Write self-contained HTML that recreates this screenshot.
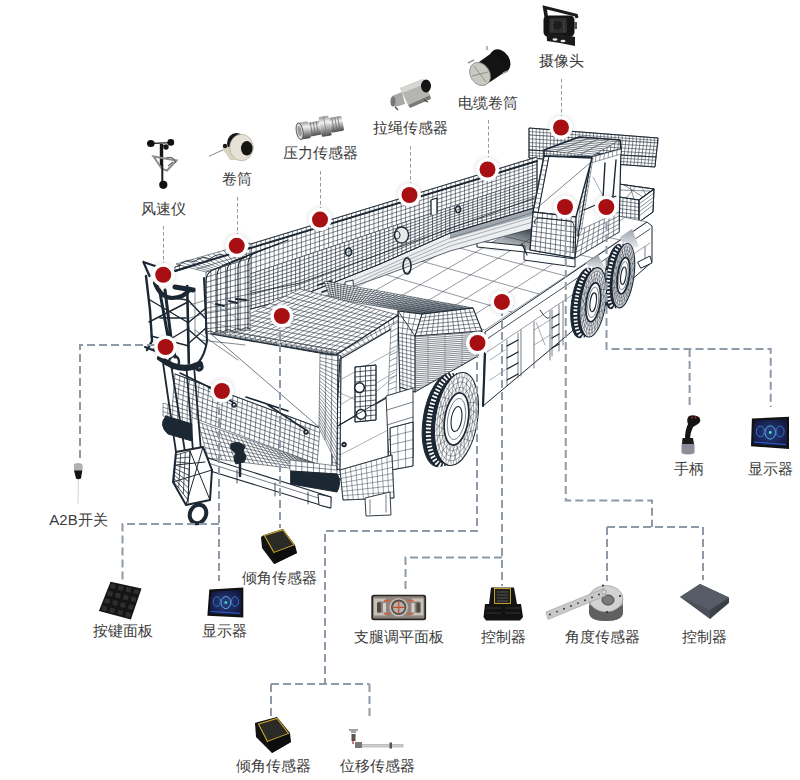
<!DOCTYPE html>
<html><head><meta charset="utf-8">
<style>
html,body{margin:0;padding:0;background:#fff;}
body{width:800px;height:780px;position:relative;overflow:hidden;font-family:"Liberation Sans",sans-serif;}
.lb{position:absolute;font-size:15px;line-height:15px;color:#3b3b3b;white-space:nowrap;transform:translateX(-50%);}
svg{position:absolute;left:0;top:0;}
</style></head><body>
<svg id="truck" width="800" height="780" viewBox="0 0 800 780">
<polygon points="529.0,128.0 658.0,138.0 658.0,143.0 529.0,135.0" fill="#fff" stroke="none"/>
<path d="M529.0 128.0L529.0 135.0M532.6 128.3L532.6 135.2M536.2 128.6L536.2 135.4M539.8 128.8L539.8 135.7M543.3 129.1L543.3 135.9M546.9 129.4L546.9 136.1M550.5 129.7L550.5 136.3M554.1 129.9L554.1 136.6M557.7 130.2L557.7 136.8M561.2 130.5L561.2 137.0M564.8 130.8L564.8 137.2M568.4 131.1L568.4 137.4M572.0 131.3L572.0 137.7M575.6 131.6L575.6 137.9M579.2 131.9L579.2 138.1M582.8 132.2L582.8 138.3M586.3 132.4L586.3 138.6M589.9 132.7L589.9 138.8M593.5 133.0L593.5 139.0M597.1 133.3L597.1 139.2M600.7 133.6L600.7 139.4M604.2 133.8L604.2 139.7M607.8 134.1L607.8 139.9M611.4 134.4L611.4 140.1M615.0 134.7L615.0 140.3M618.6 134.9L618.6 140.6M622.2 135.2L622.2 140.8M625.8 135.5L625.8 141.0M629.3 135.8L629.3 141.2M632.9 136.1L632.9 141.4M636.5 136.3L636.5 141.7M640.1 136.6L640.1 141.9M643.7 136.9L643.7 142.1M647.2 137.2L647.2 142.3M650.8 137.4L650.8 142.6M654.4 137.7L654.4 142.8M658.0 138.0L658.0 143.0M529.0 128.0L658.0 138.0M529.0 131.5L658.0 140.5M529.0 135.0L658.0 143.0" fill="none" stroke="#2a3642" stroke-width="0.55" stroke-opacity="1.0"/>
<polygon points="529.0,135.0 658.0,143.0 656.0,157.0 529.0,150.0" fill="#fff" stroke="none"/>
<path d="M529.0 135.0L529.0 150.0M532.6 135.2L532.5 150.2M536.2 135.4L536.1 150.4M539.8 135.7L539.6 150.6M543.3 135.9L543.1 150.8M546.9 136.1L546.6 151.0M550.5 136.3L550.2 151.2M554.1 136.6L553.7 151.4M557.7 136.8L557.2 151.6M561.2 137.0L560.8 151.8M564.8 137.2L564.3 151.9M568.4 137.4L567.8 152.1M572.0 137.7L571.3 152.3M575.6 137.9L574.9 152.5M579.2 138.1L578.4 152.7M582.8 138.3L581.9 152.9M586.3 138.6L585.4 153.1M589.9 138.8L589.0 153.3M593.5 139.0L592.5 153.5M597.1 139.2L596.0 153.7M600.7 139.4L599.6 153.9M604.2 139.7L603.1 154.1M607.8 139.9L606.6 154.3M611.4 140.1L610.1 154.5M615.0 140.3L613.7 154.7M618.6 140.6L617.2 154.9M622.2 140.8L620.7 155.1M625.8 141.0L624.2 155.2M629.3 141.2L627.8 155.4M632.9 141.4L631.3 155.6M636.5 141.7L634.8 155.8M640.1 141.9L638.4 156.0M643.7 142.1L641.9 156.2M647.2 142.3L645.4 156.4M650.8 142.6L648.9 156.6M654.4 142.8L652.5 156.8M658.0 143.0L656.0 157.0M529.0 135.0L658.0 143.0M529.0 138.8L657.5 146.5M529.0 142.5L657.0 150.0M529.0 146.2L656.5 153.5M529.0 150.0L656.0 157.0" fill="none" stroke="#2a3642" stroke-width="0.6" stroke-opacity="1.0"/>
<polygon points="529.0,150.0 656.0,157.0 655.0,167.0 529.0,158.0" fill="#fff" stroke="none"/>
<path d="M529.0 150.0L529.0 158.0M532.5 150.2L532.5 158.2M536.1 150.4L536.0 158.5M539.6 150.6L539.5 158.8M543.1 150.8L543.0 159.0M546.6 151.0L546.5 159.2M550.2 151.2L550.0 159.5M553.7 151.4L553.5 159.8M557.2 151.6L557.0 160.0M560.8 151.8L560.5 160.2M564.3 151.9L564.0 160.5M567.8 152.1L567.5 160.8M571.3 152.3L571.0 161.0M574.9 152.5L574.5 161.2M578.4 152.7L578.0 161.5M581.9 152.9L581.5 161.8M585.4 153.1L585.0 162.0M589.0 153.3L588.5 162.2M592.5 153.5L592.0 162.5M596.0 153.7L595.5 162.8M599.6 153.9L599.0 163.0M603.1 154.1L602.5 163.2M606.6 154.3L606.0 163.5M610.1 154.5L609.5 163.8M613.7 154.7L613.0 164.0M617.2 154.9L616.5 164.2M620.7 155.1L620.0 164.5M624.2 155.2L623.5 164.8M627.8 155.4L627.0 165.0M631.3 155.6L630.5 165.2M634.8 155.8L634.0 165.5M638.4 156.0L637.5 165.8M641.9 156.2L641.0 166.0M645.4 156.4L644.5 166.2M648.9 156.6L648.0 166.5M652.5 156.8L651.5 166.8M656.0 157.0L655.0 167.0M529.0 150.0L656.0 157.0M529.0 152.7L655.7 160.3M529.0 155.3L655.3 163.7M529.0 158.0L655.0 167.0" fill="none" stroke="#2a3642" stroke-width="0.55" stroke-opacity="1.0"/>
<polygon points="529.0,128.0 658.0,138.0 656.0,157.0 655.0,167.0 529.0,158.0" fill="none" stroke="#1b2733" stroke-width="1.0" stroke-linejoin="round" />
<path d="M529 150L656 157" fill="none" stroke="#1b2733" stroke-width="0.9" stroke-linecap="round" stroke-linejoin="round" />
<polygon points="619.0,184.0 654.0,189.0 639.0,200.0 619.0,197.0" fill="#fff" stroke="#1b2733" stroke-width="0.9" stroke-linejoin="round" />
<path d="M624 185L643 197M630 186L634 199M636 186.5L626 198M642 187.5L646 195M619 190L650 191" fill="none" stroke="#3a4650" stroke-width="0.6" stroke-linecap="round" stroke-linejoin="round" />
<polygon points="619.0,197.0 639.0,200.0 639.0,222.0 618.0,220.0" fill="#fff" stroke="none"/>
<path d="M619.0 197.0L618.0 220.0M623.0 197.6L622.2 220.4M627.0 198.2L626.4 220.8M631.0 198.8L630.6 221.2M635.0 199.4L634.8 221.6M639.0 200.0L639.0 222.0M619.0 197.0L639.0 200.0M618.8 200.8L639.0 203.7M618.7 204.7L639.0 207.3M618.5 208.5L639.0 211.0M618.3 212.3L639.0 214.7M618.2 216.2L639.0 218.3M618.0 220.0L639.0 222.0" fill="none" stroke="#2a3642" stroke-width="0.6" stroke-opacity="1.0"/>
<polygon points="639.0,200.0 654.0,189.0 653.0,212.0 639.0,222.0" fill="#fff" stroke="#1b2733" stroke-width="0.9" stroke-linejoin="round" />
<path d="M639 204L654 193M639 208L654 197M639 212L653 201M639 216L653 205" fill="none" stroke="#3a4650" stroke-width="0.6" stroke-linecap="round" stroke-linejoin="round" />
<polygon points="619.0,184.0 654.0,189.0 653.0,212.0 639.0,222.0 618.0,220.0" fill="none" stroke="#1b2733" stroke-width="1.0" stroke-linejoin="round" />
<path d="M619 197L639 200L654 189M639 200V222" fill="none" stroke="#1b2733" stroke-width="1.2" stroke-linecap="round" stroke-linejoin="round" />
<polygon points="485.0,330.0 647.0,222.0 470.0,185.0 300.0,272.0" fill="#fff" stroke="none"/>
<path d="M485.0 330.0L300.0 272.0M512.0 312.0L328.3 257.5M539.0 294.0L356.7 243.0M566.0 276.0L385.0 228.5M593.0 258.0L413.3 214.0M620.0 240.0L441.7 199.5M647.0 222.0L470.0 185.0M485.0 330.0L647.0 222.0M461.9 322.8L624.9 217.4M438.8 315.5L602.8 212.8M415.6 308.2L580.6 208.1M392.5 301.0L558.5 203.5M369.4 293.8L536.4 198.9M346.2 286.5L514.2 194.2M323.1 279.2L492.1 189.6M300.0 272.0L470.0 185.0" fill="none" stroke="#3a4650" stroke-width="0.55" stroke-opacity="1.0"/>
<polygon points="485.0,332.0 647.0,222.0 652.0,226.0 652.0,262.0 570.0,333.0 483.0,406.0" fill="#fff" stroke="#1b2733" stroke-width="1.0" stroke-linejoin="round" />
<path d="M487 339L650 229" fill="none" stroke="#1b2733" stroke-width="0.8" stroke-linecap="round" stroke-linejoin="round" />
<path d="M487 352L650 243" fill="none" stroke="#55606a" stroke-width="0.6" stroke-linecap="round" stroke-linejoin="round" />
<path d="M485 354L483 406" fill="none" stroke="#1b2733" stroke-width="2.2" stroke-linecap="round" stroke-linejoin="round" />
<path d="M507 340V386M518 333V378M521 330V376M534 322V368M550 311V360M552 310V356M559 305V351M563 302V345M579 292V334M600 278V318M625 262V296M645 247V268" fill="none" stroke="#3a4650" stroke-width="0.7" stroke-linecap="round" stroke-linejoin="round" />
<path d="M507 346L518 340M507 358L518 352M507 369L518 363M507 380L518 374" fill="none" stroke="#1b2733" stroke-width="1.3" stroke-linecap="round" stroke-linejoin="round" />
<path d="M552 318L559 314M552 328L559 324M552 338L559 334M552 348L559 344" fill="none" stroke="#1b2733" stroke-width="1.3" stroke-linecap="round" stroke-linejoin="round" />
<path d="M534 330L550 320M534 345L550 335M536 322L545 345M490 360L505 350M490 380L505 370" fill="none" stroke="#55606a" stroke-width="0.5" stroke-linecap="round" stroke-linejoin="round" />
<path d="M540 310Q546 320 549 318" fill="none" stroke="#1b2733" stroke-width="0.9" stroke-linecap="round" stroke-linejoin="round" />
<path d="M638 262L650 256L652 263L641 268Z" fill="#fff" stroke="#1b2733" stroke-width="1.0" stroke-linecap="round" stroke-linejoin="round" />
<linearGradient id="fnd" x1="0" y1="0" x2="0" y2="1"><stop offset="0" stop-color="#9aa2aa"/><stop offset="1" stop-color="#eef0f2"/></linearGradient>
<polygon points="586,263 598,255 607,271 591,271" fill="url(#fnd)"/>
<polygon points="620,237 632,229 639,247 625,249" fill="url(#fnd)"/>
<g transform="translate(623.4,275.7) rotate(8)"><ellipse cx="-8" cy="2" rx="10.5" ry="32.5" fill="#1b2733" stroke="#1b2733" stroke-width="1"/><path d="M-8 -30.5L0 -32.5L0 32.5L-8 34.5Z" fill="#1b2733"/><ellipse cx="-4.0" cy="1.0" rx="10.5" ry="32.5" fill="none" stroke="#fff" stroke-width="3.6" stroke-dasharray="1.7 1.9"/><ellipse cx="0" cy="0" rx="10.5" ry="32.5" fill="#fff" stroke="#1b2733" stroke-width="1.1"/><path d="M9.7 -10.9L5.8 0.0L9.7 10.9" fill="none" stroke="#2a3642" stroke-width="0.4"/><path d="M10.3 -2.8L5.6 4.6L8.4 18.3" fill="none" stroke="#2a3642" stroke-width="0.4"/><path d="M10.1 5.5L5.0 8.9L6.6 24.4" fill="none" stroke="#2a3642" stroke-width="0.4"/><path d="M9.3 13.4L4.1 12.6L4.3 28.9" fill="none" stroke="#2a3642" stroke-width="0.4"/><path d="M7.9 20.4L2.9 15.5L1.8 31.4" fill="none" stroke="#2a3642" stroke-width="0.4"/><path d="M5.9 26.1L1.5 17.3L-0.9 31.7" fill="none" stroke="#2a3642" stroke-width="0.4"/><path d="M3.5 29.9L0.0 17.9L-3.5 29.9" fill="none" stroke="#2a3642" stroke-width="0.4"/><path d="M0.9 31.7L-1.5 17.3L-5.9 26.1" fill="none" stroke="#2a3642" stroke-width="0.4"/><path d="M-1.8 31.4L-2.9 15.5L-7.9 20.4" fill="none" stroke="#2a3642" stroke-width="0.4"/><path d="M-4.3 28.9L-4.1 12.6L-9.3 13.4" fill="none" stroke="#2a3642" stroke-width="0.4"/><path d="M-6.6 24.4L-5.0 8.9L-10.1 5.5" fill="none" stroke="#2a3642" stroke-width="0.4"/><path d="M-8.4 18.3L-5.6 4.6L-10.3 -2.8" fill="none" stroke="#2a3642" stroke-width="0.4"/><path d="M-9.7 10.9L-5.8 0.0L-9.7 -10.9" fill="none" stroke="#2a3642" stroke-width="0.4"/><path d="M-10.3 2.8L-5.6 -4.6L-8.4 -18.3" fill="none" stroke="#2a3642" stroke-width="0.4"/><path d="M-10.1 -5.5L-5.0 -8.9L-6.6 -24.4" fill="none" stroke="#2a3642" stroke-width="0.4"/><path d="M-9.3 -13.4L-4.1 -12.6L-4.3 -28.9" fill="none" stroke="#2a3642" stroke-width="0.4"/><path d="M-7.9 -20.4L-2.9 -15.5L-1.8 -31.4" fill="none" stroke="#2a3642" stroke-width="0.4"/><path d="M-5.9 -26.1L-1.5 -17.3L0.9 -31.7" fill="none" stroke="#2a3642" stroke-width="0.4"/><path d="M-3.5 -29.9L-0.0 -17.9L3.5 -29.9" fill="none" stroke="#2a3642" stroke-width="0.4"/><path d="M-0.9 -31.7L1.5 -17.3L5.9 -26.1" fill="none" stroke="#2a3642" stroke-width="0.4"/><path d="M1.8 -31.4L2.9 -15.5L7.9 -20.4" fill="none" stroke="#2a3642" stroke-width="0.4"/><path d="M4.3 -28.9L4.1 -12.6L9.3 -13.4" fill="none" stroke="#2a3642" stroke-width="0.4"/><path d="M6.6 -24.4L5.0 -8.9L10.1 -5.5" fill="none" stroke="#2a3642" stroke-width="0.4"/><path d="M8.4 -18.3L5.6 -4.6L10.3 2.8" fill="none" stroke="#2a3642" stroke-width="0.4"/><ellipse cx="0" cy="0" rx="8.2" ry="26.0" fill="none" stroke="#2a3642" stroke-width="0.45"/><ellipse cx="0" cy="0" rx="6.9" ry="22.1" fill="none" stroke="#2a3642" stroke-width="0.4"/><ellipse cx="0" cy="0" rx="9.3" ry="29.2" fill="none" stroke="#2a3642" stroke-width="0.4"/><ellipse cx="0" cy="0" rx="5.9" ry="18.2" fill="#fff" stroke="#1b2733" stroke-width="1.7"/><ellipse cx="0" cy="0" rx="4.4" ry="14.3" fill="none" stroke="#2a3642" stroke-width="0.6"/><ellipse cx="0" cy="0" rx="2.6" ry="8.8" fill="none" stroke="#1b2733" stroke-width="1.1"/></g>
<g transform="translate(593.2,302.3) rotate(8)"><ellipse cx="-9" cy="2" rx="12.5" ry="35" fill="#1b2733" stroke="#1b2733" stroke-width="1"/><path d="M-9 -33L0 -35L0 35L-9 37Z" fill="#1b2733"/><ellipse cx="-4.5" cy="1.0" rx="12.5" ry="35" fill="none" stroke="#fff" stroke-width="3.8" stroke-dasharray="1.7 1.9"/><ellipse cx="0" cy="0" rx="12.5" ry="35" fill="#fff" stroke="#1b2733" stroke-width="1.1"/><path d="M11.5 -11.8L6.9 0.0L11.5 11.8" fill="none" stroke="#2a3642" stroke-width="0.4"/><path d="M12.2 -3.0L6.6 5.0L10.0 19.7" fill="none" stroke="#2a3642" stroke-width="0.4"/><path d="M12.1 5.9L6.0 9.6L7.9 26.3" fill="none" stroke="#2a3642" stroke-width="0.4"/><path d="M11.1 14.5L4.9 13.6L5.2 31.1" fill="none" stroke="#2a3642" stroke-width="0.4"/><path d="M9.4 22.0L3.4 16.7L2.1 33.8" fill="none" stroke="#2a3642" stroke-width="0.4"/><path d="M7.0 28.1L1.8 18.6L-1.1 34.2" fill="none" stroke="#2a3642" stroke-width="0.4"/><path d="M4.2 32.2L0.0 19.2L-4.2 32.2" fill="none" stroke="#2a3642" stroke-width="0.4"/><path d="M1.1 34.2L-1.8 18.6L-7.0 28.1" fill="none" stroke="#2a3642" stroke-width="0.4"/><path d="M-2.1 33.8L-3.4 16.7L-9.4 22.0" fill="none" stroke="#2a3642" stroke-width="0.4"/><path d="M-5.2 31.1L-4.9 13.6L-11.1 14.5" fill="none" stroke="#2a3642" stroke-width="0.4"/><path d="M-7.9 26.3L-6.0 9.6L-12.1 5.9" fill="none" stroke="#2a3642" stroke-width="0.4"/><path d="M-10.0 19.7L-6.6 5.0L-12.2 -3.0" fill="none" stroke="#2a3642" stroke-width="0.4"/><path d="M-11.5 11.8L-6.9 0.0L-11.5 -11.8" fill="none" stroke="#2a3642" stroke-width="0.4"/><path d="M-12.2 3.0L-6.6 -5.0L-10.0 -19.7" fill="none" stroke="#2a3642" stroke-width="0.4"/><path d="M-12.1 -5.9L-6.0 -9.6L-7.9 -26.3" fill="none" stroke="#2a3642" stroke-width="0.4"/><path d="M-11.1 -14.5L-4.9 -13.6L-5.2 -31.1" fill="none" stroke="#2a3642" stroke-width="0.4"/><path d="M-9.4 -22.0L-3.4 -16.7L-2.1 -33.8" fill="none" stroke="#2a3642" stroke-width="0.4"/><path d="M-7.0 -28.1L-1.8 -18.6L1.1 -34.2" fill="none" stroke="#2a3642" stroke-width="0.4"/><path d="M-4.2 -32.2L-0.0 -19.2L4.2 -32.2" fill="none" stroke="#2a3642" stroke-width="0.4"/><path d="M-1.1 -34.2L1.8 -18.6L7.0 -28.1" fill="none" stroke="#2a3642" stroke-width="0.4"/><path d="M2.1 -33.8L3.4 -16.7L9.4 -22.0" fill="none" stroke="#2a3642" stroke-width="0.4"/><path d="M5.2 -31.1L4.9 -13.6L11.1 -14.5" fill="none" stroke="#2a3642" stroke-width="0.4"/><path d="M7.9 -26.3L6.0 -9.6L12.1 -5.9" fill="none" stroke="#2a3642" stroke-width="0.4"/><path d="M10.0 -19.7L6.6 -5.0L12.2 3.0" fill="none" stroke="#2a3642" stroke-width="0.4"/><ellipse cx="0" cy="0" rx="9.8" ry="28.0" fill="none" stroke="#2a3642" stroke-width="0.45"/><ellipse cx="0" cy="0" rx="8.2" ry="23.8" fill="none" stroke="#2a3642" stroke-width="0.4"/><ellipse cx="0" cy="0" rx="11.1" ry="31.5" fill="none" stroke="#2a3642" stroke-width="0.4"/><ellipse cx="0" cy="0" rx="7.0" ry="19.6" fill="#fff" stroke="#1b2733" stroke-width="1.7"/><ellipse cx="0" cy="0" rx="5.2" ry="15.4" fill="none" stroke="#2a3642" stroke-width="0.6"/><ellipse cx="0" cy="0" rx="3.1" ry="9.5" fill="none" stroke="#1b2733" stroke-width="1.1"/></g>
<linearGradient id="shd" x1="0" y1="0" x2="0" y2="1"><stop offset="0" stop-color="#1b2733" stop-opacity="0.9"/><stop offset="1" stop-color="#1b2733" stop-opacity="0.05"/></linearGradient>
<linearGradient id="shd2" x1="1" y1="0" x2="0.3" y2="1"><stop offset="0" stop-color="#1b2733" stop-opacity="0.95"/><stop offset="1" stop-color="#1b2733" stop-opacity="0"/></linearGradient>
<polygon points="470,250 533,226 531,250 480,252" fill="url(#shd2)"/>
<polygon points="477.0,241.0 525.0,246.0 525.0,252.0 477.0,247.0" fill="#fff" stroke="#1b2733" stroke-width="1.0" stroke-linejoin="round" />
<polygon points="300.0,296.0 380.0,264.0 450.0,233.0 537.0,207.0 531.0,229.0 450.0,251.0 380.0,277.0 300.0,305.0" fill="#eceef0" stroke="#1b2733" stroke-width="0.7" stroke-linejoin="round" />
<path d="M310 298L380 269L450 238L535 212M320 300L380 272L450 242L534 217M340 296L380 275L450 246L533 222" fill="none" stroke="#56616b" stroke-width="0.45" stroke-linecap="round" stroke-linejoin="round" />
<polygon points="450,233 537,207 535,215 450,239" fill="#1b2733" opacity="0.35"/>
<polygon points="247.0,249.1 537.0,161.0 537.0,178.0 247.0,275.0" fill="#fff" stroke="none"/>
<path d="M247.0 249.1L247.0 275.0M251.5 247.7L251.5 273.5M256.1 246.4L256.1 272.0M260.6 245.0L260.6 270.5M265.1 243.6L265.1 268.9M269.7 242.2L269.7 267.4M274.2 240.9L274.2 265.9M278.7 239.5L278.7 264.4M283.2 238.1L283.2 262.9M287.8 236.7L287.8 261.4M292.3 235.4L292.3 259.8M296.8 234.0L296.8 258.3M301.4 232.6L301.4 256.8M305.9 231.2L305.9 255.3M310.4 229.8L310.4 253.8M315.0 228.5L315.0 252.3M319.5 227.1L319.5 250.8M324.0 225.7L324.0 249.2M328.6 224.3L328.6 247.7M333.1 223.0L333.1 246.2M337.6 221.6L337.6 244.7M342.2 220.2L342.2 243.2M346.7 218.8L346.7 241.7M351.2 217.5L351.2 240.1M355.8 216.1L355.8 238.6M360.3 214.7L360.3 237.1M364.8 213.3L364.8 235.6M369.3 211.9L369.3 234.1M373.9 210.6L373.9 232.6M378.4 209.2L378.4 231.0M382.9 207.8L382.9 229.5M387.5 206.4L387.5 228.0M392.0 205.1L392.0 226.5M396.5 203.7L396.5 225.0M401.1 202.3L401.1 223.5M405.6 200.9L405.6 222.0M410.1 199.6L410.1 220.4M414.7 198.2L414.7 218.9M419.2 196.8L419.2 217.4M423.7 195.4L423.7 215.9M428.2 194.0L428.2 214.4M432.8 192.7L432.8 212.9M437.3 191.3L437.3 211.3M441.8 189.9L441.8 209.8M446.4 188.5L446.4 208.3M450.9 187.2L450.9 206.8M455.4 185.8L455.4 205.3M460.0 184.4L460.0 203.8M464.5 183.0L464.5 202.2M469.0 181.7L469.0 200.7M473.6 180.3L473.6 199.2M478.1 178.9L478.1 197.7M482.6 177.5L482.6 196.2M487.2 176.1L487.2 194.7M491.7 174.8L491.7 193.2M496.2 173.4L496.2 191.6M500.8 172.0L500.8 190.1M505.3 170.6L505.3 188.6M509.8 169.3L509.8 187.1M514.3 167.9L514.3 185.6M518.9 166.5L518.9 184.1M523.4 165.1L523.4 182.5M527.9 163.8L527.9 181.0M532.5 162.4L532.5 179.5M537.0 161.0L537.0 178.0M247.0 249.1L537.0 161.0M247.0 254.3L537.0 164.4M247.0 259.5L537.0 167.8M247.0 264.6L537.0 171.2M247.0 269.8L537.0 174.6M247.0 275.0L537.0 178.0" fill="none" stroke="#2a3642" stroke-width="0.6" stroke-opacity="1.0"/>
<polygon points="247.0,275.0 300.0,257.3 300.0,296.0 247.0,310.0" fill="#fff" stroke="none"/>
<path d="M247.0 275.0L247.0 310.0M251.4 273.5L251.4 308.8M255.8 272.0L255.8 307.7M260.2 270.6L260.2 306.5M264.7 269.1L264.7 305.3M269.1 267.6L269.1 304.2M273.5 266.1L273.5 303.0M277.9 264.7L277.9 301.8M282.3 263.2L282.3 300.7M286.8 261.7L286.8 299.5M291.2 260.2L291.2 298.3M295.6 258.7L295.6 297.2M300.0 257.3L300.0 296.0M247.0 275.0L300.0 257.3M247.0 278.5L300.0 261.1M247.0 282.0L300.0 265.0M247.0 285.5L300.0 268.9M247.0 289.0L300.0 272.8M247.0 292.5L300.0 276.6M247.0 296.0L300.0 280.5M247.0 299.5L300.0 284.4M247.0 303.0L300.0 288.3M247.0 306.5L300.0 292.1M247.0 310.0L300.0 296.0" fill="none" stroke="#2a3642" stroke-width="0.7" stroke-opacity="1.0"/>
<polygon points="300.0,257.3 380.0,230.5 380.0,264.0 300.0,296.0" fill="#fff" stroke="none"/>
<path d="M300.0 257.3L300.0 296.0M304.4 255.8L304.4 294.2M308.9 254.3L308.9 292.4M313.3 252.8L313.3 290.7M317.8 251.3L317.8 288.9M322.2 249.8L322.2 287.1M326.7 248.4L326.7 285.3M331.1 246.9L331.1 283.6M335.6 245.4L335.6 281.8M340.0 243.9L340.0 280.0M344.4 242.4L344.4 278.2M348.9 240.9L348.9 276.4M353.3 239.4L353.3 274.7M357.8 237.9L357.8 272.9M362.2 236.5L362.2 271.1M366.7 235.0L366.7 269.3M371.1 233.5L371.1 267.6M375.6 232.0L375.6 265.8M380.0 230.5L380.0 264.0M300.0 257.3L380.0 230.5M300.0 261.1L380.0 233.9M300.0 265.0L380.0 237.2M300.0 268.9L380.0 240.6M300.0 272.8L380.0 243.9M300.0 276.6L380.0 247.3M300.0 280.5L380.0 250.6M300.0 284.4L380.0 254.0M300.0 288.3L380.0 257.3M300.0 292.1L380.0 260.7M300.0 296.0L380.0 264.0" fill="none" stroke="#2a3642" stroke-width="0.7" stroke-opacity="1.0"/>
<polygon points="380.0,230.5 450.0,207.1 450.0,233.0 380.0,264.0" fill="#fff" stroke="none"/>
<path d="M380.0 230.5L380.0 264.0M384.4 229.1L384.4 262.1M388.8 227.6L388.8 260.1M393.1 226.1L393.1 258.2M397.5 224.7L397.5 256.2M401.9 223.2L401.9 254.3M406.2 221.7L406.2 252.4M410.6 220.3L410.6 250.4M415.0 218.8L415.0 248.5M419.4 217.3L419.4 246.6M423.8 215.9L423.8 244.6M428.1 214.4L428.1 242.7M432.5 213.0L432.5 240.8M436.9 211.5L436.9 238.8M441.2 210.0L441.2 236.9M445.6 208.6L445.6 234.9M450.0 207.1L450.0 233.0M380.0 230.5L450.0 207.1M380.0 233.9L450.0 209.7M380.0 237.2L450.0 212.3M380.0 240.6L450.0 214.9M380.0 243.9L450.0 217.5M380.0 247.3L450.0 220.1M380.0 250.6L450.0 222.6M380.0 254.0L450.0 225.2M380.0 257.3L450.0 227.8M380.0 260.7L450.0 230.4M380.0 264.0L450.0 233.0" fill="none" stroke="#2a3642" stroke-width="0.7" stroke-opacity="1.0"/>
<polygon points="450.0,207.1 537.0,178.0 537.0,207.0 450.0,233.0" fill="#fff" stroke="none"/>
<path d="M450.0 207.1L450.0 233.0M454.6 205.6L454.6 231.6M459.2 204.0L459.2 230.3M463.7 202.5L463.7 228.9M468.3 201.0L468.3 227.5M472.9 199.4L472.9 226.2M477.5 197.9L477.5 224.8M482.1 196.4L482.1 223.4M486.6 194.8L486.6 222.1M491.2 193.3L491.2 220.7M495.8 191.8L495.8 219.3M500.4 190.3L500.4 217.9M504.9 188.7L504.9 216.6M509.5 187.2L509.5 215.2M514.1 185.7L514.1 213.8M518.7 184.1L518.7 212.5M523.3 182.6L523.3 211.1M527.8 181.1L527.8 209.7M532.4 179.5L532.4 208.4M537.0 178.0L537.0 207.0M450.0 207.1L537.0 178.0M450.0 209.7L537.0 180.9M450.0 212.3L537.0 183.8M450.0 214.9L537.0 186.7M450.0 217.5L537.0 189.6M450.0 220.1L537.0 192.5M450.0 222.6L537.0 195.4M450.0 225.2L537.0 198.3M450.0 227.8L537.0 201.2M450.0 230.4L537.0 204.1M450.0 233.0L537.0 207.0" fill="none" stroke="#2a3642" stroke-width="0.7" stroke-opacity="1.0"/>
<polygon points="247.0,249.1 537.0,161.0 537.0,207.0 450.0,233.0 380.0,264.0 300.0,296.0 247.0,310.0" fill="none" stroke="#1b2733" stroke-width="1.0" stroke-linejoin="round" />
<path d="M247 294L300 283L537 197" fill="none" stroke="#1f2b37" stroke-width="0.9" stroke-linecap="round" stroke-linejoin="round" />
<polygon points="175.0,267.0 537.0,157.0 537.0,161.0 175.0,271.0" fill="#fff" stroke="none"/>
<path d="M175.0 267.0L175.0 271.0M179.5 265.6L179.5 269.6M184.1 264.2L184.1 268.2M188.6 262.9L188.6 266.9M193.1 261.5L193.1 265.5M197.6 260.1L197.6 264.1M202.2 258.8L202.2 262.8M206.7 257.4L206.7 261.4M211.2 256.0L211.2 260.0M215.7 254.6L215.7 258.6M220.2 253.2L220.2 257.2M224.8 251.9L224.8 255.9M229.3 250.5L229.3 254.5M233.8 249.1L233.8 253.1M238.3 247.8L238.3 251.8M242.9 246.4L242.9 250.4M247.4 245.0L247.4 249.0M251.9 243.6L251.9 247.6M256.4 242.2L256.4 246.2M261.0 240.9L261.0 244.9M265.5 239.5L265.5 243.5M270.0 238.1L270.0 242.1M274.6 236.8L274.6 240.8M279.1 235.4L279.1 239.4M283.6 234.0L283.6 238.0M288.1 232.6L288.1 236.6M292.6 231.2L292.6 235.2M297.2 229.9L297.2 233.9M301.7 228.5L301.7 232.5M306.2 227.1L306.2 231.1M310.8 225.8L310.8 229.8M315.3 224.4L315.3 228.4M319.8 223.0L319.8 227.0M324.3 221.6L324.3 225.6M328.9 220.2L328.9 224.2M333.4 218.9L333.4 222.9M337.9 217.5L337.9 221.5M342.4 216.1L342.4 220.1M346.9 214.8L346.9 218.8M351.5 213.4L351.5 217.4M356.0 212.0L356.0 216.0M360.5 210.6L360.5 214.6M365.1 209.2L365.1 213.2M369.6 207.9L369.6 211.9M374.1 206.5L374.1 210.5M378.6 205.1L378.6 209.1M383.1 203.8L383.1 207.8M387.7 202.4L387.7 206.4M392.2 201.0L392.2 205.0M396.7 199.6L396.7 203.6M401.2 198.2L401.2 202.2M405.8 196.9L405.8 200.9M410.3 195.5L410.3 199.5M414.8 194.1L414.8 198.1M419.4 192.8L419.4 196.8M423.9 191.4L423.9 195.4M428.4 190.0L428.4 194.0M432.9 188.6L432.9 192.6M437.4 187.2L437.4 191.2M442.0 185.9L442.0 189.9M446.5 184.5L446.5 188.5M451.0 183.1L451.0 187.1M455.6 181.8L455.6 185.8M460.1 180.4L460.1 184.4M464.6 179.0L464.6 183.0M469.1 177.6L469.1 181.6M473.6 176.2L473.6 180.2M478.2 174.9L478.2 178.9M482.7 173.5L482.7 177.5M487.2 172.1L487.2 176.1M491.8 170.8L491.8 174.8M496.3 169.4L496.3 173.4M500.8 168.0L500.8 172.0M505.3 166.6L505.3 170.6M509.9 165.2L509.9 169.2M514.4 163.9L514.4 167.9M518.9 162.5L518.9 166.5M523.4 161.1L523.4 165.1M528.0 159.8L528.0 163.8M532.5 158.4L532.5 162.4M537.0 157.0L537.0 161.0M175.0 267.0L537.0 157.0M175.0 271.0L537.0 161.0" fill="none" stroke="#2a3642" stroke-width="0.6" stroke-opacity="1.0"/>
<path d="M175 267L537 157" fill="none" stroke="#1b2733" stroke-width="0.8" stroke-linecap="round" stroke-linejoin="round" />
<path d="M175 271L537 161" fill="none" stroke="#1b2733" stroke-width="1.9" stroke-linecap="round" stroke-linejoin="round" />
<path d="M322 292L334 288M318 285L332 281" fill="none" stroke="#1b2733" stroke-width="1.5" stroke-linecap="round" stroke-linejoin="round" />
<path d="M458 206a2.6 3.4 0 1 0 0.1 0" fill="none" stroke="#1b2733" stroke-width="1.5" stroke-linecap="round" stroke-linejoin="round" />
<path d="M401.5 227a7 8 0 1 0 0.1 0" fill="#e6e8ea" stroke="#1b2733" stroke-width="1.3" stroke-linecap="round" stroke-linejoin="round" />
<path d="M397 231a3 4 0 1 0 0.1 0" fill="none" stroke="#1b2733" stroke-width="1.0" stroke-linecap="round" stroke-linejoin="round" />
<path d="M431 215V200L437 198V213" fill="#fff" stroke="#1b2733" stroke-width="1.3" stroke-linecap="round" stroke-linejoin="round" />
<path d="M407 258a4 8 0 1 0 0.1 0" fill="none" stroke="#1b2733" stroke-width="1.6" stroke-linecap="round" stroke-linejoin="round" />
<path d="M348.5 248a3 4 0 1 0 0.1 0" fill="none" stroke="#1b2733" stroke-width="1.6" stroke-linecap="round" stroke-linejoin="round" />
<polygon points="345.0,282.0 353.0,280.0 354.0,297.0 346.0,299.0" fill="#fff" stroke="#1b2733" stroke-width="0.9" stroke-linejoin="round" />
<polygon points="544.0,150.0 579.0,137.0 620.0,140.0 592.0,156.0" fill="#fff" stroke="none"/>
<path d="M544.0 150.0L592.0 156.0M547.9 148.6L595.1 154.2M551.8 147.1L598.2 152.4M555.7 145.7L601.3 150.7M559.6 144.2L604.4 148.9M563.4 142.8L607.6 147.1M567.3 141.3L610.7 145.3M571.2 139.9L613.8 143.6M575.1 138.4L616.9 141.8M579.0 137.0L620.0 140.0M544.0 150.0L579.0 137.0M556.0 151.5L589.2 137.8M568.0 153.0L599.5 138.5M580.0 154.5L609.8 139.2M592.0 156.0L620.0 140.0" fill="none" stroke="#2a3642" stroke-width="0.6" stroke-opacity="1.0"/>
<polygon points="544.0,150.0 579.0,137.0 620.0,140.0 621.0,149.0 592.0,157.0 544.0,156.0" fill="none" stroke="#1b2733" stroke-width="1.6" stroke-linejoin="round" />
<polygon points="592.0,157.0 621.0,149.0 619.0,232.0 575.0,258.0" fill="#fff" stroke="#1b2733" stroke-width="1.2" stroke-linejoin="round" />
<polygon points="592.0,157.0 621.0,149.0 621.0,154.0 591.0,163.0" fill="#fff" stroke="none"/>
<path d="M592.0 157.0L591.0 163.0M596.1 155.9L595.3 161.7M600.3 154.7L599.6 160.4M604.4 153.6L603.9 159.1M608.6 152.4L608.1 157.9M612.7 151.3L612.4 156.6M616.9 150.1L616.7 155.3M621.0 149.0L621.0 154.0M592.0 157.0L621.0 149.0M591.0 163.0L621.0 154.0" fill="none" stroke="#2a3642" stroke-width="0.5" stroke-opacity="1.0"/>
<polygon points="580.0,230.0 619.0,212.0 619.0,232.0 575.0,258.0" fill="#fff" stroke="none"/>
<path d="M580.0 230.0L575.0 258.0M584.9 227.8L580.5 254.8M589.8 225.5L586.0 251.5M594.6 223.2L591.5 248.2M599.5 221.0L597.0 245.0M604.4 218.8L602.5 241.8M609.2 216.5L608.0 238.5M614.1 214.2L613.5 235.2M619.0 212.0L619.0 232.0M580.0 230.0L619.0 212.0M579.0 235.6L619.0 216.0M578.0 241.2L619.0 220.0M577.0 246.8L619.0 224.0M576.0 252.4L619.0 228.0M575.0 258.0L619.0 232.0" fill="none" stroke="#2a3642" stroke-width="0.55" stroke-opacity="1.0"/>
<polygon points="585.0,160.0 593.0,158.0 581.0,232.0 577.0,236.0" fill="#fff" stroke="none"/>
<path d="M585.0 160.0L577.0 236.0M593.0 158.0L581.0 232.0M585.0 160.0L593.0 158.0M584.5 164.8L592.2 162.6M584.0 169.5L591.5 167.2M583.5 174.2L590.8 171.9M583.0 179.0L590.0 176.5M582.5 183.8L589.2 181.1M582.0 188.5L588.5 185.8M581.5 193.2L587.8 190.4M581.0 198.0L587.0 195.0M580.5 202.8L586.2 199.6M580.0 207.5L585.5 204.2M579.5 212.2L584.8 208.9M579.0 217.0L584.0 213.5M578.5 221.8L583.2 218.1M578.0 226.5L582.5 222.8M577.5 231.2L581.8 227.4M577.0 236.0L581.0 232.0" fill="none" stroke="#2a3642" stroke-width="0.5" stroke-opacity="1.0"/>
<path d="M591 160L578 236" fill="none" stroke="#1b2733" stroke-width="1.3" stroke-linecap="round" stroke-linejoin="round" />
<path d="M605 163L603 198M616 160L613 196L600 206" fill="none" stroke="#1b2733" stroke-width="1.4" stroke-linecap="round" stroke-linejoin="round" />
<path d="M584 210L616 196" fill="none" stroke="#1b2733" stroke-width="1.1" stroke-linecap="round" stroke-linejoin="round" />
<path d="M593 177L605 200" fill="none" stroke="#55606a" stroke-width="0.5" stroke-linecap="round" stroke-linejoin="round" />
<polygon points="544.0,156.0 592.0,158.0 576.0,217.0 533.0,212.0" fill="#fff" stroke="#1b2733" stroke-width="1.4" stroke-linejoin="round" />
<path d="M544.0 156.0L533.0 212.0M549.0 156.0L538.0 213.0M544.0 156.0L549.0 156.0M543.1 160.7L548.1 160.8M542.2 165.3L547.2 165.5M541.2 170.0L546.2 170.2M540.3 174.7L545.3 175.0M539.4 179.3L544.4 179.8M538.5 184.0L543.5 184.5M537.6 188.7L542.6 189.2M536.7 193.3L541.7 194.0M535.8 198.0L540.8 198.8M534.8 202.7L539.8 203.5M533.9 207.3L538.9 208.2M533.0 212.0L538.0 213.0" fill="none" stroke="#2a3642" stroke-width="0.5" stroke-opacity="1.0"/>
<path d="M549 156L538 213" fill="none" stroke="#1b2733" stroke-width="1.0" stroke-linecap="round" stroke-linejoin="round" />
<path d="M537 208L590 163" fill="none" stroke="#2a3642" stroke-width="0.6" stroke-linecap="round" stroke-linejoin="round" />
<polygon points="533.0,212.0 576.0,217.0 575.0,258.0 530.0,250.0" fill="#fff" stroke="none"/>
<path d="M533.0 212.0L530.0 250.0M537.8 212.6L535.0 250.9M542.6 213.1L540.0 251.8M547.3 213.7L545.0 252.7M552.1 214.2L550.0 253.6M556.9 214.8L555.0 254.4M561.7 215.3L560.0 255.3M566.4 215.9L565.0 256.2M571.2 216.4L570.0 257.1M576.0 217.0L575.0 258.0M533.0 212.0L576.0 217.0M532.6 216.8L575.9 222.1M532.2 221.5L575.8 227.2M531.9 226.2L575.6 232.4M531.5 231.0L575.5 237.5M531.1 235.8L575.4 242.6M530.8 240.5L575.2 247.8M530.4 245.2L575.1 252.9M530.0 250.0L575.0 258.0" fill="none" stroke="#2a3642" stroke-width="0.6" stroke-opacity="1.0"/>
<polygon points="533.0,212.0 576.0,217.0 575.0,258.0 530.0,250.0" fill="none" stroke="#1b2733" stroke-width="1.2" stroke-linejoin="round"/>
<path d="M535 224Q533 218 540 218L570 221Q575 222 574 230L573 252" fill="none" stroke="#1b2733" stroke-width="1.0" stroke-linecap="round" stroke-linejoin="round" />
<polygon points="524.0,252.0 575.0,259.0 575.0,267.0 524.0,260.0" fill="#fff" stroke="#1b2733" stroke-width="1.0" stroke-linejoin="round" />
<path d="M522 244L527 255" fill="none" stroke="#1b2733" stroke-width="1.2" stroke-linecap="round" stroke-linejoin="round" />
<polygon points="324.0,281.0 473.0,308.0 422.0,314.0 330.0,298.0" fill="#fff" stroke="none"/>
<path d="M324.0 281.0L330.0 298.0M327.4 281.6L332.1 298.4M330.8 282.2L334.2 298.7M334.2 282.8L336.3 299.1M337.5 283.5L338.4 299.5M340.9 284.1L340.5 299.8M344.3 284.7L342.5 300.2M347.7 285.3L344.6 300.5M351.1 285.9L346.7 300.9M354.5 286.5L348.8 301.3M357.9 287.1L350.9 301.6M361.2 287.8L353.0 302.0M364.6 288.4L355.1 302.4M368.0 289.0L357.2 302.7M371.4 289.6L359.3 303.1M374.8 290.2L361.4 303.5M378.2 290.8L363.5 303.8M381.6 291.4L365.5 304.2M385.0 292.0L367.6 304.5M388.3 292.7L369.7 304.9M391.7 293.3L371.8 305.3M395.1 293.9L373.9 305.6M398.5 294.5L376.0 306.0M401.9 295.1L378.1 306.4M405.3 295.7L380.2 306.7M408.7 296.3L382.3 307.1M412.0 297.0L384.4 307.5M415.4 297.6L386.5 307.8M418.8 298.2L388.5 308.2M422.2 298.8L390.6 308.5M425.6 299.4L392.7 308.9M429.0 300.0L394.8 309.3M432.4 300.6L396.9 309.6M435.8 301.2L399.0 310.0M439.1 301.9L401.1 310.4M442.5 302.5L403.2 310.7M445.9 303.1L405.3 311.1M449.3 303.7L407.4 311.5M452.7 304.3L409.5 311.8M456.1 304.9L411.5 312.2M459.5 305.5L413.6 312.5M462.8 306.2L415.7 312.9M466.2 306.8L417.8 313.3M469.6 307.4L419.9 313.6M473.0 308.0L422.0 314.0M324.0 281.0L473.0 308.0M324.8 283.1L466.6 308.8M325.5 285.2L460.2 309.5M326.2 287.4L453.9 310.2M327.0 289.5L447.5 311.0M327.8 291.6L441.1 311.8M328.5 293.8L434.8 312.5M329.2 295.9L428.4 313.2M330.0 298.0L422.0 314.0" fill="none" stroke="#1f2b37" stroke-width="0.6" stroke-opacity="1.0"/>
<polygon points="422.0,314.0 473.0,308.0 482.0,331.0 415.0,336.0" fill="#fff" stroke="none"/>
<path d="M422.0 314.0L415.0 336.0M426.2 313.5L420.6 335.6M430.5 313.0L426.2 335.2M434.8 312.5L431.8 334.8M439.0 312.0L437.3 334.3M443.2 311.5L442.9 333.9M447.5 311.0L448.5 333.5M451.8 310.5L454.1 333.1M456.0 310.0L459.7 332.7M460.2 309.5L465.2 332.2M464.5 309.0L470.8 331.8M468.8 308.5L476.4 331.4M473.0 308.0L482.0 331.0M422.0 314.0L473.0 308.0M420.8 317.7L474.5 311.8M419.7 321.3L476.0 315.7M418.5 325.0L477.5 319.5M417.3 328.7L479.0 323.3M416.2 332.3L480.5 327.2M415.0 336.0L482.0 331.0" fill="none" stroke="#1f2b37" stroke-width="0.55" stroke-opacity="1.0"/>
<clipPath id="hfc"><polygon points="415,336 482,331 478,356 415,392"/></clipPath>
<polygon points="415,336 482,331 478,356 415,392" fill="#fff"/>
<path clip-path="url(#hfc)" d="M414 337.0L483 331.8M414 338.9L483 333.8M414 340.9L483 335.7M414 342.9L483 337.7M414 344.8L483 339.6M414 346.8L483 341.6M414 348.7L483 343.5M414 350.6L483 345.4M414 352.6L483 347.4M414 354.6L483 349.4M414 356.5L483 351.3M414 358.4L483 353.2M414 360.4L483 355.2M414 362.4L483 357.2M414 364.3L483 359.1M414 366.2L483 361.1M414 368.2L483 363.0M414 370.1L483 364.9M414 372.1L483 366.9M414 374.1L483 368.9M414 376.0L483 370.8M414 377.9L483 372.8M414 379.9L483 374.7M414 381.9L483 376.7M414 383.8L483 378.6M414 385.8L483 380.6M414 387.7L483 382.5M414 389.6L483 384.4M414 391.6L483 386.4M414 393.6L483 388.4" stroke="#1f2b37" stroke-width="0.55" fill="none"/>
<path d="M428 335V385M445 334V376M462 332V366" fill="none" stroke="#55606a" stroke-width="0.45" stroke-linecap="round" stroke-linejoin="round" />
<polygon points="398.0,311.0 422.0,314.0 415.0,336.0 398.0,333.0" fill="#fff" stroke="none"/>
<path d="M398.0 311.0L398.0 333.0M404.0 311.8L402.2 333.8M410.0 312.5L406.5 334.5M416.0 313.2L410.8 335.2M422.0 314.0L415.0 336.0M398.0 311.0L422.0 314.0M398.0 316.5L420.2 319.5M398.0 322.0L418.5 325.0M398.0 327.5L416.8 330.5M398.0 333.0L415.0 336.0" fill="none" stroke="#2a3642" stroke-width="0.55" stroke-opacity="1.0"/>
<polygon points="398.0,333.0 415.0,336.0 415.0,392.0 399.0,387.0" fill="#fff" stroke="none"/>
<path d="M398.0 333.0L399.0 387.0M402.2 333.8L403.0 388.2M406.5 334.5L407.0 389.5M410.8 335.2L411.0 390.8M415.0 336.0L415.0 392.0M398.0 333.0L415.0 336.0M398.1 336.9L415.0 340.0M398.1 340.7L415.0 344.0M398.2 344.6L415.0 348.0M398.3 348.4L415.0 352.0M398.4 352.3L415.0 356.0M398.4 356.1L415.0 360.0M398.5 360.0L415.0 364.0M398.6 363.9L415.0 368.0M398.6 367.7L415.0 372.0M398.7 371.6L415.0 376.0M398.8 375.4L415.0 380.0M398.9 379.3L415.0 384.0M398.9 383.1L415.0 388.0M399.0 387.0L415.0 392.0" fill="none" stroke="#2a3642" stroke-width="0.55" stroke-opacity="1.0"/>
<path d="M415 336L482 331M415 336V392M398 311L415 336M422 314L415 336" fill="none" stroke="#1b2733" stroke-width="0.9" stroke-linecap="round" stroke-linejoin="round" />
<polygon points="398.0,311.0 422.0,314.0 473.0,308.0 482.0,331.0 478.0,356.0 415.0,392.0 399.0,387.0" fill="none" stroke="#1b2733" stroke-width="1.0" stroke-linejoin="round" />
<g transform="translate(456.5,419) rotate(9)"><ellipse cx="-12" cy="3" rx="21" ry="47" fill="#1b2733" stroke="#1b2733" stroke-width="1"/><path d="M-12 -44L0 -47L0 47L-12 50Z" fill="#1b2733"/><ellipse cx="-6.0" cy="1.5" rx="21" ry="47" fill="none" stroke="#fff" stroke-width="5" stroke-dasharray="1.7 1.9"/><ellipse cx="0" cy="0" rx="21" ry="47" fill="#fff" stroke="#1b2733" stroke-width="1.1"/><path d="M19.3 -15.8L11.6 0.0L19.3 15.8" fill="none" stroke="#2a3642" stroke-width="0.4"/><path d="M20.5 -4.1L11.2 6.7L16.8 26.5" fill="none" stroke="#2a3642" stroke-width="0.4"/><path d="M20.3 8.0L10.0 12.9L13.2 35.3" fill="none" stroke="#2a3642" stroke-width="0.4"/><path d="M18.7 19.4L8.2 18.3L8.7 41.8" fill="none" stroke="#2a3642" stroke-width="0.4"/><path d="M15.8 29.6L5.8 22.4L3.6 45.4" fill="none" stroke="#2a3642" stroke-width="0.4"/><path d="M11.8 37.7L3.0 25.0L-1.8 45.9" fill="none" stroke="#2a3642" stroke-width="0.4"/><path d="M7.1 43.3L0.0 25.9L-7.1 43.3" fill="none" stroke="#2a3642" stroke-width="0.4"/><path d="M1.8 45.9L-3.0 25.0L-11.8 37.7" fill="none" stroke="#2a3642" stroke-width="0.4"/><path d="M-3.6 45.4L-5.8 22.4L-15.8 29.6" fill="none" stroke="#2a3642" stroke-width="0.4"/><path d="M-8.7 41.8L-8.2 18.3L-18.7 19.4" fill="none" stroke="#2a3642" stroke-width="0.4"/><path d="M-13.2 35.3L-10.0 12.9L-20.3 8.0" fill="none" stroke="#2a3642" stroke-width="0.4"/><path d="M-16.8 26.5L-11.2 6.7L-20.5 -4.1" fill="none" stroke="#2a3642" stroke-width="0.4"/><path d="M-19.3 15.8L-11.6 0.0L-19.3 -15.8" fill="none" stroke="#2a3642" stroke-width="0.4"/><path d="M-20.5 4.1L-11.2 -6.7L-16.8 -26.5" fill="none" stroke="#2a3642" stroke-width="0.4"/><path d="M-20.3 -8.0L-10.0 -12.9L-13.2 -35.3" fill="none" stroke="#2a3642" stroke-width="0.4"/><path d="M-18.7 -19.4L-8.2 -18.3L-8.7 -41.8" fill="none" stroke="#2a3642" stroke-width="0.4"/><path d="M-15.8 -29.6L-5.8 -22.4L-3.6 -45.4" fill="none" stroke="#2a3642" stroke-width="0.4"/><path d="M-11.8 -37.7L-3.0 -25.0L1.8 -45.9" fill="none" stroke="#2a3642" stroke-width="0.4"/><path d="M-7.1 -43.3L-0.0 -25.9L7.1 -43.3" fill="none" stroke="#2a3642" stroke-width="0.4"/><path d="M-1.8 -45.9L3.0 -25.0L11.8 -37.7" fill="none" stroke="#2a3642" stroke-width="0.4"/><path d="M3.6 -45.4L5.8 -22.4L15.8 -29.6" fill="none" stroke="#2a3642" stroke-width="0.4"/><path d="M8.7 -41.8L8.2 -18.3L18.7 -19.4" fill="none" stroke="#2a3642" stroke-width="0.4"/><path d="M13.2 -35.3L10.0 -12.9L20.3 -8.0" fill="none" stroke="#2a3642" stroke-width="0.4"/><path d="M16.8 -26.5L11.2 -6.7L20.5 4.1" fill="none" stroke="#2a3642" stroke-width="0.4"/><ellipse cx="0" cy="0" rx="16.4" ry="37.6" fill="none" stroke="#2a3642" stroke-width="0.45"/><ellipse cx="0" cy="0" rx="13.9" ry="32.0" fill="none" stroke="#2a3642" stroke-width="0.4"/><ellipse cx="0" cy="0" rx="18.7" ry="42.3" fill="none" stroke="#2a3642" stroke-width="0.4"/><ellipse cx="0" cy="0" rx="11.8" ry="26.3" fill="#fff" stroke="#1b2733" stroke-width="1.7"/><ellipse cx="0" cy="0" rx="8.8" ry="20.7" fill="none" stroke="#2a3642" stroke-width="0.6"/><ellipse cx="0" cy="0" rx="5.2" ry="12.7" fill="none" stroke="#1b2733" stroke-width="1.1"/></g>
<polygon points="331.0,352.0 398.0,316.0 400.0,393.0 392.0,460.0 340.0,480.0 333.0,467.0" fill="#fff" stroke="#1b2733" stroke-width="1.1" stroke-linejoin="round" />
<polygon points="331.0,352.0 398.0,316.0 398.0,325.0 340.0,357.0" fill="#fff" stroke="none"/>
<path d="M331.0 352.0L340.0 357.0M335.8 349.4L344.1 354.7M340.6 346.9L348.3 352.4M345.4 344.3L352.4 350.1M350.1 341.7L356.6 347.9M354.9 339.1L360.7 345.6M359.7 336.6L364.9 343.3M364.5 334.0L369.0 341.0M369.3 331.4L373.1 338.7M374.1 328.9L377.3 336.4M378.9 326.3L381.4 334.1M383.6 323.7L385.6 331.9M388.4 321.1L389.7 329.6M393.2 318.6L393.9 327.3M398.0 316.0L398.0 325.0M331.0 352.0L398.0 316.0M335.5 354.5L398.0 320.5M340.0 357.0L398.0 325.0" fill="none" stroke="#2a3642" stroke-width="0.55" stroke-opacity="1.0"/>
<polygon points="331.0,352.0 341.0,356.0 340.0,470.0 332.0,467.0" fill="#fff" stroke="none"/>
<path d="M331.0 352.0L332.0 467.0M336.0 354.0L336.0 468.5M341.0 356.0L340.0 470.0M331.0 352.0L341.0 356.0M331.0 357.2L341.0 361.2M331.1 362.5L340.9 366.4M331.1 367.7L340.9 371.5M331.2 372.9L340.8 376.7M331.2 378.1L340.8 381.9M331.3 383.4L340.7 387.1M331.3 388.6L340.7 392.3M331.4 393.8L340.6 397.5M331.4 399.0L340.6 402.6M331.5 404.3L340.5 407.8M331.5 409.5L340.5 413.0M331.5 414.7L340.5 418.2M331.6 420.0L340.4 423.4M331.6 425.2L340.4 428.5M331.7 430.4L340.3 433.7M331.7 435.6L340.3 438.9M331.8 440.9L340.2 444.1M331.8 446.1L340.2 449.3M331.9 451.3L340.1 454.5M331.9 456.5L340.1 459.6M332.0 461.8L340.0 464.8M332.0 467.0L340.0 470.0" fill="none" stroke="#2a3642" stroke-width="0.55" stroke-opacity="1.0"/>
<polygon points="331.0,352.0 341.0,356.0 340.0,470.0 332.0,467.0" fill="none" stroke="#1b2733" stroke-width="0.9" stroke-linejoin="round"/>
<polygon points="340.0,359.0 395.0,327.0 395.0,393.0 336.0,427.0" fill="none" stroke="#1b2733" stroke-width="1.1" stroke-linejoin="round" />
<polygon points="391.0,326.0 398.0,322.0 396.0,393.0 388.0,396.0" fill="#fff" stroke="none"/>
<path d="M391.0 326.0L388.0 396.0M398.0 322.0L396.0 393.0M391.0 326.0L398.0 322.0M390.8 331.8L397.8 327.9M390.5 337.7L397.7 333.8M390.2 343.5L397.5 339.8M390.0 349.3L397.3 345.7M389.8 355.2L397.2 351.6M389.5 361.0L397.0 357.5M389.2 366.8L396.8 363.4M389.0 372.7L396.7 369.3M388.8 378.5L396.5 375.2M388.5 384.3L396.3 381.2M388.2 390.2L396.2 387.1M388.0 396.0L396.0 393.0" fill="none" stroke="#2a3642" stroke-width="0.5" stroke-opacity="1.0"/>
<path d="M340 380L395 350M340 405L395 372M338 392L356 400M376 392L395 376" fill="none" stroke="#55606a" stroke-width="0.5" stroke-linecap="round" stroke-linejoin="round" />
<polygon points="355.0,367.0 376.0,365.0 376.0,420.0 355.0,422.0" fill="#fff" stroke="none"/>
<path d="M355.0 367.0L355.0 422.0M360.2 366.5L360.2 421.5M365.5 366.0L365.5 421.0M370.8 365.5L370.8 420.5M376.0 365.0L376.0 420.0M355.0 367.0L376.0 365.0M355.0 372.0L376.0 370.0M355.0 377.0L376.0 375.0M355.0 382.0L376.0 380.0M355.0 387.0L376.0 385.0M355.0 392.0L376.0 390.0M355.0 397.0L376.0 395.0M355.0 402.0L376.0 400.0M355.0 407.0L376.0 405.0M355.0 412.0L376.0 410.0M355.0 417.0L376.0 415.0M355.0 422.0L376.0 420.0" fill="none" stroke="#1f2b37" stroke-width="0.75" stroke-opacity="1.0"/>
<polygon points="355.0,367.0 376.0,365.0 376.0,420.0 355.0,422.0" fill="none" stroke="#1b2733" stroke-width="1.0" stroke-linejoin="round"/>
<path d="M359.5 382.8a4.8 4.8 0 1 0 0.1 0M361 409.6a4.8 4.8 0 1 0 0.1 0" fill="#fff" stroke="#1b2733" stroke-width="1.5" stroke-linecap="round" stroke-linejoin="round" />
<path d="M336 427L388 396V458L338 475" fill="none" stroke="#1b2733" stroke-width="0.9" stroke-linecap="round" stroke-linejoin="round" />
<path d="M344 442.7a1.8 1.8 0 1 0 0.1 0" fill="none" stroke="#1b2733" stroke-width="2" stroke-linecap="round" stroke-linejoin="round" />
<path d="M340 455L388 430" fill="none" stroke="#55606a" stroke-width="0.5" stroke-linecap="round" stroke-linejoin="round" />
<polygon points="386.0,396.0 413.0,388.0 413.0,458.0 389.0,462.0" fill="#fff" stroke="#1b2733" stroke-width="0.9" stroke-linejoin="round" />
<path d="M387 410L413 402M387 425L413 417M388 440L413 432M388 452L413 445" fill="none" stroke="#3a4650" stroke-width="0.7" stroke-linecap="round" stroke-linejoin="round" />
<polygon points="390.0,428.0 413.0,422.0 413.0,466.0 391.0,470.0" fill="#fff" stroke="none"/>
<path d="M390.0 428.0L391.0 470.0M397.7 426.0L398.3 468.7M405.3 424.0L405.7 467.3M413.0 422.0L413.0 466.0M390.0 428.0L413.0 422.0M390.2 436.4L413.0 430.8M390.4 444.8L413.0 439.6M390.6 453.2L413.0 448.4M390.8 461.6L413.0 457.2M391.0 470.0L413.0 466.0" fill="none" stroke="#2a3642" stroke-width="0.5" stroke-opacity="1.0"/>
<polygon points="390.0,428.0 413.0,422.0 413.0,466.0 391.0,470.0" fill="none" stroke="#1b2733" stroke-width="0.9" stroke-linejoin="round"/>
<polygon points="340.0,470.0 392.0,455.0 394.0,498.0 343.0,500.0" fill="#fff" stroke="#1b2733" stroke-width="0.9" stroke-linejoin="round" />
<path d="M340.0 470.0L343.0 500.0M345.2 468.5L348.1 499.8M350.4 467.0L353.2 499.6M355.6 465.5L358.3 499.4M360.8 464.0L363.4 499.2M366.0 462.5L368.5 499.0M371.2 461.0L373.6 498.8M376.4 459.5L378.7 498.6M381.6 458.0L383.8 498.4M386.8 456.5L388.9 498.2M392.0 455.0L394.0 498.0M340.0 470.0L392.0 455.0M340.4 474.3L392.3 461.1M340.9 478.6L392.6 467.3M341.3 482.9L392.9 473.4M341.7 487.1L393.1 479.6M342.1 491.4L393.4 485.7M342.6 495.7L393.7 491.9M343.0 500.0L394.0 498.0" fill="none" stroke="#3a4650" stroke-width="0.5" stroke-opacity="1.0"/>
<polygon points="365.0,498.0 390.0,492.0 391.0,515.0 366.0,516.0" fill="#fff" stroke="#1b2733" stroke-width="0.9" stroke-linejoin="round" />
<path d="M370 500V514M386 495V512" fill="none" stroke="#1b2733" stroke-width="0.6" stroke-linecap="round" stroke-linejoin="round" />
<polygon points="211.0,333.0 336.0,354.0 398.0,315.0 300.0,289.0" fill="#fff" stroke="none"/>
<path d="M211.0 333.0L300.0 289.0M216.7 334.0L304.5 290.2M222.4 334.9L308.9 291.4M228.0 335.9L313.4 292.5M233.7 336.8L317.8 293.7M239.4 337.8L322.3 294.9M245.1 338.7L326.7 296.1M250.8 339.7L331.2 297.3M256.5 340.6L335.6 298.5M262.1 341.6L340.1 299.6M267.8 342.5L344.5 300.8M273.5 343.5L349.0 302.0M279.2 344.5L353.5 303.2M284.9 345.4L357.9 304.4M290.5 346.4L362.4 305.5M296.2 347.3L366.8 306.7M301.9 348.3L371.3 307.9M307.6 349.2L375.7 309.1M313.3 350.2L380.2 310.3M319.0 351.1L384.6 311.5M324.6 352.1L389.1 312.6M330.3 353.0L393.5 313.8M336.0 354.0L398.0 315.0M211.0 333.0L336.0 354.0M218.4 329.3L341.2 350.8M225.8 325.7L346.3 347.5M233.2 322.0L351.5 344.2M240.7 318.3L356.7 341.0M248.1 314.7L361.8 337.8M255.5 311.0L367.0 334.5M262.9 307.3L372.2 331.2M270.3 303.7L377.3 328.0M277.8 300.0L382.5 324.8M285.2 296.3L387.7 321.5M292.6 292.7L392.8 318.2M300.0 289.0L398.0 315.0" fill="none" stroke="#2a3642" stroke-width="0.6" stroke-opacity="1.0"/>
<path d="M209.0 328.0L211.0 335.0M214.1 328.9L216.1 335.8M219.2 329.8L221.2 336.7M224.2 330.6L226.2 337.5M229.3 331.5L231.3 338.4M234.4 332.4L236.4 339.2M239.5 333.3L241.5 340.0M244.6 334.2L246.6 340.9M249.6 335.0L251.6 341.7M254.7 335.9L256.7 342.6M259.8 336.8L261.8 343.4M264.9 337.7L266.9 344.2M270.0 338.6L272.0 345.1M275.0 339.4L277.0 345.9M280.1 340.3L282.1 346.8M285.2 341.2L287.2 347.6M290.3 342.1L292.3 348.4M295.4 343.0L297.4 349.3M300.4 343.8L302.4 350.1M305.5 344.7L307.5 351.0M310.6 345.6L312.6 351.8M315.7 346.5L317.7 352.6M320.8 347.4L322.8 353.5M325.8 348.2L327.8 354.3M330.9 349.1L332.9 355.2M336.0 350.0L338.0 356.0M209.0 328.0L336.0 350.0M210.0 331.5L337.0 353.0M211.0 335.0L338.0 356.0" fill="none" stroke="#2a3642" stroke-width="0.5" stroke-opacity="1.0"/>
<path d="M211 334L336 355L398 315" fill="none" stroke="#1b2733" stroke-width="1.1" stroke-linecap="round" stroke-linejoin="round" />
<polygon points="211.0,334.0 331.0,355.0 320.0,428.0 175.0,374.0" fill="#fff" stroke="none" stroke-width="1.0" stroke-linejoin="round" />
<path d="M211 334L331 355L320 428" fill="none" stroke="#1b2733" stroke-width="1.1" stroke-linecap="round" stroke-linejoin="round" />
<path d="M211 334L320 428" fill="none" stroke="#39444e" stroke-width="0.7" stroke-linecap="round" stroke-linejoin="round" />
<polygon points="175.0,374.0 320.0,428.0 317.0,464.0 172.0,410.0" fill="#fff" stroke="none"/>
<path d="M175.0 374.0L172.0 410.0M179.8 375.8L176.8 411.8M184.7 377.6L181.7 413.6M189.5 379.4L186.5 415.4M194.3 381.2L191.3 417.2M199.2 383.0L196.2 419.0M204.0 384.8L201.0 420.8M208.8 386.6L205.8 422.6M213.7 388.4L210.7 424.4M218.5 390.2L215.5 426.2M223.3 392.0L220.3 428.0M228.2 393.8L225.2 429.8M233.0 395.6L230.0 431.6M237.8 397.4L234.8 433.4M242.7 399.2L239.7 435.2M247.5 401.0L244.5 437.0M252.3 402.8L249.3 438.8M257.2 404.6L254.2 440.6M262.0 406.4L259.0 442.4M266.8 408.2L263.8 444.2M271.7 410.0L268.7 446.0M276.5 411.8L273.5 447.8M281.3 413.6L278.3 449.6M286.2 415.4L283.2 451.4M291.0 417.2L288.0 453.2M295.8 419.0L292.8 455.0M300.7 420.8L297.7 456.8M305.5 422.6L302.5 458.6M310.3 424.4L307.3 460.4M315.2 426.2L312.2 462.2M320.0 428.0L317.0 464.0M175.0 374.0L320.0 428.0M174.6 378.5L319.6 432.5M174.2 383.0L319.2 437.0M173.9 387.5L318.9 441.5M173.5 392.0L318.5 446.0M173.1 396.5L318.1 450.5M172.8 401.0L317.8 455.0M172.4 405.5L317.4 459.5M172.0 410.0L317.0 464.0" fill="none" stroke="#2a3642" stroke-width="0.6" stroke-opacity="1.0"/>
<path d="M175 374L320 428" fill="none" stroke="#1b2733" stroke-width="0.9" stroke-linecap="round" stroke-linejoin="round" />
<polygon points="198.0,422.0 317.0,464.0 337.0,474.0 208.0,458.0" fill="#fff" stroke="none"/>
<path d="M198.0 422.0L208.0 458.0M202.2 423.5L212.6 458.6M206.5 425.0L217.2 459.1M210.8 426.5L221.8 459.7M215.0 428.0L226.4 460.3M219.2 429.5L231.0 460.9M223.5 431.0L235.6 461.4M227.8 432.5L240.2 462.0M232.0 434.0L244.9 462.6M236.2 435.5L249.5 463.1M240.5 437.0L254.1 463.7M244.8 438.5L258.7 464.3M249.0 440.0L263.3 464.9M253.2 441.5L267.9 465.4M257.5 443.0L272.5 466.0M261.8 444.5L277.1 466.6M266.0 446.0L281.7 467.1M270.2 447.5L286.3 467.7M274.5 449.0L290.9 468.3M278.8 450.5L295.5 468.9M283.0 452.0L300.1 469.4M287.2 453.5L304.8 470.0M291.5 455.0L309.4 470.6M295.8 456.5L314.0 471.1M300.0 458.0L318.6 471.7M304.2 459.5L323.2 472.3M308.5 461.0L327.8 472.9M312.8 462.5L332.4 473.4M317.0 464.0L337.0 474.0M198.0 422.0L317.0 464.0M199.4 427.1L319.9 465.4M200.9 432.3L322.7 466.9M202.3 437.4L325.6 468.3M203.7 442.6L328.4 469.7M205.1 447.7L331.3 471.1M206.6 452.9L334.1 472.6M208.0 458.0L337.0 474.0" fill="none" stroke="#1f2b37" stroke-width="0.55" stroke-opacity="1.0"/>
<polygon points="163.0,403.0 192.0,412.0 192.0,424.0 163.0,416.0" fill="#fff" stroke="none"/>
<path d="M163.0 403.0L163.0 416.0M167.8 404.5L167.8 417.3M172.7 406.0L172.7 418.7M177.5 407.5L177.5 420.0M182.3 409.0L182.3 421.3M187.2 410.5L187.2 422.7M192.0 412.0L192.0 424.0M163.0 403.0L192.0 412.0M163.0 407.3L192.0 416.0M163.0 411.7L192.0 420.0M163.0 416.0L192.0 424.0" fill="none" stroke="#2a3642" stroke-width="0.55" stroke-opacity="1.0"/>
<polygon points="290.0,460.0 337.0,466.0 337.0,474.0 290.0,471.0" fill="#fff" stroke="none"/>
<path d="M290.0 460.0L290.0 471.0M295.9 460.8L295.9 471.4M301.8 461.5L301.8 471.8M307.6 462.2L307.6 472.1M313.5 463.0L313.5 472.5M319.4 463.8L319.4 472.9M325.2 464.5L325.2 473.2M331.1 465.2L331.1 473.6M337.0 466.0L337.0 474.0M290.0 460.0L337.0 466.0M290.0 465.5L337.0 470.0M290.0 471.0L337.0 474.0" fill="none" stroke="#2a3642" stroke-width="0.55" stroke-opacity="1.0"/>
<polygon points="320.0,354.0 338.0,356.0 337.0,464.0 319.0,428.0" fill="#fff" stroke="none"/>
<path d="M320.0 354.0L319.0 428.0M326.0 354.7L325.0 440.0M332.0 355.3L331.0 452.0M338.0 356.0L337.0 464.0M320.0 354.0L338.0 356.0M320.0 357.4L338.0 360.9M319.9 360.7L337.9 365.8M319.9 364.1L337.9 370.7M319.8 367.5L337.8 375.6M319.8 370.8L337.8 380.5M319.7 374.2L337.7 385.5M319.7 377.5L337.7 390.4M319.6 380.9L337.6 395.3M319.6 384.3L337.6 400.2M319.5 387.6L337.5 405.1M319.5 391.0L337.5 410.0M319.5 394.4L337.5 414.9M319.4 397.7L337.4 419.8M319.4 401.1L337.4 424.7M319.3 404.5L337.3 429.6M319.3 407.8L337.3 434.5M319.2 411.2L337.2 439.5M319.2 414.5L337.2 444.4M319.1 417.9L337.1 449.3M319.1 421.3L337.1 454.2M319.0 424.6L337.0 459.1M319.0 428.0L337.0 464.0" fill="none" stroke="#2a3642" stroke-width="0.55" stroke-opacity="1.0"/>
<path d="M338 356L337 470" fill="none" stroke="#1b2733" stroke-width="1.0" stroke-linecap="round" stroke-linejoin="round" />
<path d="M180 373L211 388M208 387L234 403M246 397L288 411M268 405L306 430" fill="none" stroke="#1b2733" stroke-width="1.6" stroke-linecap="round" stroke-linejoin="round" />
<path d="M234 403a2 2 0 1 0 0.1 0M306 430a2 2 0 1 0 0.1 0" fill="none" stroke="#1b2733" stroke-width="1.6" stroke-linecap="round" stroke-linejoin="round" />
<path d="M166 416L192 424V441L168 434Q158 425 166 416Z" fill="#1b2733" stroke="#1b2733" stroke-width="1.0" stroke-linecap="round" stroke-linejoin="round" />
<path d="M291 471L337 474Q342 483 337 492L291 484Z" fill="#1b2733" stroke="#1b2733" stroke-width="1.0" stroke-linecap="round" stroke-linejoin="round" />
<polygon points="208.0,458.0 331.0,497.0 330.0,508.0 207.0,470.0" fill="#fff" stroke="#1b2733" stroke-width="1.1" stroke-linejoin="round" />
<path d="M208 463L331 502" fill="none" stroke="#1b2733" stroke-width="0.6" stroke-linecap="round" stroke-linejoin="round" />
<polygon points="318.0,494.0 331.0,497.0 331.0,508.0 319.0,505.0" fill="#fff" stroke="#1b2733" stroke-width="1.0" stroke-linejoin="round" />
<path d="M237 470V483M275 483V496M308 492V504" fill="none" stroke="#1b2733" stroke-width="0.8" stroke-linecap="round" stroke-linejoin="round" />
<path d="M231 444Q238 440 245 446L243 452Q248 456 244 462L236 464Q232 458 236 453Q229 450 231 444Z" fill="#1b2733" stroke="#1b2733" stroke-width="1" stroke-linecap="round" stroke-linejoin="round" />
<path d="M240 464V476" fill="none" stroke="#1b2733" stroke-width="2.5" stroke-linecap="round" stroke-linejoin="round" />
<polygon points="206.0,272.0 250.0,258.0 250.0,330.0 206.0,334.0" fill="#fff" stroke="none"/>
<path d="M206.0 272.0L206.0 334.0M210.9 270.4L210.9 333.6M215.8 268.9L215.8 333.1M220.7 267.3L220.7 332.7M225.6 265.8L225.6 332.2M230.4 264.2L230.4 331.8M235.3 262.7L235.3 331.3M240.2 261.1L240.2 330.9M245.1 259.6L245.1 330.4M250.0 258.0L250.0 330.0M206.0 272.0L250.0 258.0M206.0 277.2L250.0 264.0M206.0 282.3L250.0 270.0M206.0 287.5L250.0 276.0M206.0 292.7L250.0 282.0M206.0 297.8L250.0 288.0M206.0 303.0L250.0 294.0M206.0 308.2L250.0 300.0M206.0 313.3L250.0 306.0M206.0 318.5L250.0 312.0M206.0 323.7L250.0 318.0M206.0 328.8L250.0 324.0M206.0 334.0L250.0 330.0" fill="none" stroke="#2a3642" stroke-width="0.65" stroke-opacity="1.0"/>
<polygon points="176.0,264.0 250.0,243.0 250.0,258.0 206.0,272.0" fill="#fff" stroke="none"/>
<path d="M176.0 264.0L206.0 272.0M181.3 262.5L209.1 271.0M186.6 261.0L212.3 270.0M191.9 259.5L215.4 269.0M197.1 258.0L218.6 268.0M202.4 256.5L221.7 267.0M207.7 255.0L224.9 266.0M213.0 253.5L228.0 265.0M218.3 252.0L231.1 264.0M223.6 250.5L234.3 263.0M228.9 249.0L237.4 262.0M234.1 247.5L240.6 261.0M239.4 246.0L243.7 260.0M244.7 244.5L246.9 259.0M250.0 243.0L250.0 258.0M176.0 264.0L250.0 243.0M186.0 266.7L250.0 248.0M196.0 269.3L250.0 253.0M206.0 272.0L250.0 258.0" fill="none" stroke="#2a3642" stroke-width="0.6" stroke-opacity="1.0"/>
<path d="M206 333V281Q206 272 215 269L246 257" fill="none" stroke="#1b2733" stroke-width="1.1" stroke-linecap="round" stroke-linejoin="round" />
<path d="M217 332V276Q217 267 226 264L257 252" fill="none" stroke="#1b2733" stroke-width="1.1" stroke-linecap="round" stroke-linejoin="round" />
<path d="M227 331V272Q227 263 236 260L267 248" fill="none" stroke="#1b2733" stroke-width="1.1" stroke-linecap="round" stroke-linejoin="round" />
<path d="M238 330V268Q238 259 247 256L278 244" fill="none" stroke="#1b2733" stroke-width="1.1" stroke-linecap="round" stroke-linejoin="round" />
<path d="M248 329V264Q248 255 257 252L288 240" fill="none" stroke="#1b2733" stroke-width="1.1" stroke-linecap="round" stroke-linejoin="round" />
<path d="M206 333Q210 329 214 333Q219 329 223 332Q228 328 232 331Q237 327 241 330Q246 326 250 329" fill="none" stroke="#1b2733" stroke-width="0.9" stroke-linecap="round" stroke-linejoin="round" />
<path d="M216 304L224 306M229 301L237 303M236 299L246 300" fill="none" stroke="#1b2733" stroke-width="2" stroke-linecap="round" stroke-linejoin="round" />
<path d="M178 266Q186 258 194 262Q202 255 210 259Q218 252 226 256Q234 250 242 253" fill="none" stroke="#1b2733" stroke-width="0.9" stroke-linecap="round" stroke-linejoin="round" />
<path d="M175 271L250 248" fill="none" stroke="#1b2733" stroke-width="1.9" stroke-linecap="round" stroke-linejoin="round" />
<path d="M143.4 262L155 266M143.4 262L149.5 276" fill="none" stroke="#1b2733" stroke-width="2.2" stroke-linecap="round" stroke-linejoin="round" />
<path d="M146 276L150 310L152 341L147 350" fill="none" stroke="#1b2733" stroke-width="2.4" stroke-linecap="round" stroke-linejoin="round" />
<path d="M145 347L158 352" fill="none" stroke="#1b2733" stroke-width="2.0" stroke-linecap="round" stroke-linejoin="round" />
<path d="M159.5 290L168.8 341L171 357M165 290L171 338L175 357" fill="none" stroke="#1b2733" stroke-width="3.0" stroke-linecap="round" stroke-linejoin="round" />
<path d="M187.2 286L188.8 363" fill="none" stroke="#1b2733" stroke-width="2.6" stroke-linecap="round" stroke-linejoin="round" />
<path d="M204 278L207 341Q205 355 198 363" fill="none" stroke="#1b2733" stroke-width="2.0" stroke-linecap="round" stroke-linejoin="round" />
<path d="M150 300L187 322M149 322L188 302M151 336L189 346M152 350L189 328M162 296L187 300M188 300L205 318M189 322L206 308M189 343L206 328M189 330L206 345M160 318L186 318" fill="none" stroke="#1b2733" stroke-width="1.45" stroke-linecap="round" stroke-linejoin="round" />
<path d="M207 300L240 320M207 312L242 306M206 322L246 330" fill="none" stroke="#55606a" stroke-width="0.5" stroke-linecap="round" stroke-linejoin="round" />
<path d="M190 305L206 300M190 318L206 313M195 288V335" fill="none" stroke="#3a4650" stroke-width="0.6" stroke-linecap="round" stroke-linejoin="round" />
<path d="M163.2 364L176 452M171 364L185 452M186.3 366L193 451M194 366L201 451" fill="none" stroke="#1b2733" stroke-width="1.8" stroke-linecap="round" stroke-linejoin="round" />
<path d="M155 283Q160 297 172 298Q184 298 190 289" fill="none" stroke="#1b2733" stroke-width="4.2" stroke-linecap="round" stroke-linejoin="round" />
<path d="M175 287L193 290" fill="none" stroke="#1b2733" stroke-width="5" stroke-linecap="round" stroke-linejoin="round" />
<path d="M160 358Q180 374 200 364" fill="none" stroke="#1b2733" stroke-width="6" stroke-linecap="round" stroke-linejoin="round" />
<path d="M174 356a5 6 0 1 0 0.1 0" fill="none" stroke="#1b2733" stroke-width="2.4" stroke-linecap="round" stroke-linejoin="round" />
<path d="M199 364a3 3 0 1 0 0.1 0" fill="none" stroke="#1b2733" stroke-width="3.4" stroke-linecap="round" stroke-linejoin="round" />
<path d="M195 330L238 360M200 340L245 345" fill="none" stroke="#2a3642" stroke-width="0.6" stroke-linecap="round" stroke-linejoin="round" />
<polygon points="176.0,452.0 203.0,447.0 212.0,470.0 210.0,500.0 186.0,505.0 173.0,482.0" fill="#fff" stroke="#1b2733" stroke-width="2.0" stroke-linejoin="round" />
<path d="M176.0 455.0L174.0 482.0M180.7 453.7L178.7 488.0M185.3 452.3L183.3 494.0M190.0 451.0L188.0 500.0M176.0 455.0L190.0 451.0M175.8 458.4L189.8 457.1M175.5 461.8L189.5 463.2M175.2 465.1L189.2 469.4M175.0 468.5L189.0 475.5M174.8 471.9L188.8 481.6M174.5 475.2L188.5 487.8M174.2 478.6L188.2 493.9M174.0 482.0L188.0 500.0" fill="none" stroke="#1f2b37" stroke-width="0.8" stroke-opacity="1.0"/>
<path d="M190 451L210 500M203 447L186 505M173 482L212 470M190 451L188 503M176 465L205 462" fill="none" stroke="#1b2733" stroke-width="1.0" stroke-linecap="round" stroke-linejoin="round" />
<ellipse cx="198" cy="514" rx="8" ry="9.5" transform="rotate(25 198 514)" fill="none" stroke="#1b2733" stroke-width="4"/>
<ellipse cx="200" cy="514" rx="3" ry="5" transform="rotate(25 200 514)" fill="#fff"/>
</svg>
<svg id="lines" width="800" height="780" viewBox="0 0 800 780">
<g stroke="#8d99a6" stroke-width="1" stroke-dasharray="3.6 2.4" fill="none">
<path d="M163.5 226V263"/>
<path d="M237.5 197V234"/>
<path d="M320.5 171V208"/>
<path d="M410.5 146V183"/>
<path d="M488.5 120V157"/>
<path d="M561.5 79V116"/>
</g>
<g stroke="#8e9aa7" stroke-width="2" stroke-dasharray="8 4" fill="none">
<path d="M155 345H80V459"/>
<path d="M219 395V581"/>
<path d="M219 524H122.5V581"/>
<path d="M280 320V528"/>
<path d="M477 350V531H325V684"/>
<path d="M271 684H369.5"/>
<path d="M271 684V719"/>
<path d="M369.5 684V720"/>
<path d="M502 308V586"/>
<path d="M502 557.5H405.5V591"/>
<path d="M565.75 210V500.5H652V527"/>
<path d="M607 527H703"/>
<path d="M607 527V581"/>
<path d="M703 527V580"/>
<path d="M606.5 210V349H770.7V407"/>
<path d="M689.6 349V407"/>
</g>
</svg>
<svg id="icons" width="800" height="780" viewBox="0 0 800 780"><defs>
<linearGradient id="silv" x1="0" y1="0" x2="0" y2="1"><stop offset="0" stop-color="#e8e8e8"/><stop offset="0.45" stop-color="#b9b9b9"/><stop offset="1" stop-color="#6e6e6e"/></linearGradient>
<linearGradient id="silvh" x1="0" y1="0" x2="1" y2="0"><stop offset="0" stop-color="#8a8a8a"/><stop offset="0.5" stop-color="#d9d9d9"/><stop offset="1" stop-color="#7a7a7a"/></linearGradient>
<radialGradient id="scr" cx="0.5" cy="0.5" r="0.6"><stop offset="0" stop-color="#2a3f8a"/><stop offset="1" stop-color="#10183a"/></radialGradient>
</defs>
<g>
<path d="M150.5 143.5L170.8 142.7M166 146.5L161.5 145" stroke="#2a2a2a" stroke-width="1.3" fill="none"/>
<ellipse cx="150.8" cy="143.6" rx="3.8" ry="3.5" fill="#111"/><ellipse cx="170.8" cy="142.4" rx="3.4" ry="3.3" fill="#111"/><circle cx="166" cy="147" r="2.7" fill="#1a1a1a"/>
<rect x="159.8" y="144" width="3.4" height="22" fill="#151515"/>
<path d="M153.5 156.5L176.5 160.5L167 170.5L162 169Z" fill="none" stroke="#8c8c8c" stroke-width="2"/>
<path d="M166 158q7 -3 10 5M168 166l5 -4" stroke="#666" stroke-width="1.1" fill="none"/>
<rect x="161.3" y="165" width="2" height="18" fill="#1e1e1e"/>
<circle cx="163.3" cy="184.8" r="4.1" fill="#0f0f0f"/>
</g>
<g>
<line x1="209" y1="156.3" x2="226" y2="148.5" stroke="#777" stroke-width="0.9"/>
<ellipse cx="236.5" cy="143.5" rx="9.5" ry="10.5" fill="#161616"/>
<path d="M222 148L236 146L244 160L230 160Z" fill="#d8d3c2"/>
<ellipse cx="241.5" cy="147.5" rx="11.8" ry="13.2" fill="#e6e2d6" stroke="#b5ae9a" stroke-width="0.8"/>
<ellipse cx="246.8" cy="148.3" rx="5.8" ry="7.2" fill="#141414"/>
<circle cx="225" cy="146" r="2.2" fill="#1a1a1a"/>
</g>
<linearGradient id="met" x1="0" y1="0" x2="0" y2="1"><stop offset="0" stop-color="#9a9a9a"/><stop offset="0.3" stop-color="#f2f2f2"/><stop offset="0.6" stop-color="#a8a8a8"/><stop offset="1" stop-color="#4a4a4a"/></linearGradient>
<g transform="rotate(-10 318 126)">
<rect x="298" y="119.5" width="11" height="17" rx="1.5" fill="url(#met)"/>
<ellipse cx="299" cy="128" rx="3.3" ry="8.4" fill="#d8d8d8" stroke="#555" stroke-width="0.9"/>
<ellipse cx="299" cy="128" rx="1.8" ry="5" fill="#9a9a9a"/>
<rect x="309" y="121" width="11" height="14" fill="url(#met)"/>
<rect x="320" y="117.5" width="10" height="20" rx="1" fill="url(#met)"/>
<rect x="330" y="120" width="13" height="15" rx="1.5" fill="url(#met)"/>
<path d="M311 121V135M314 121V135M317 121V135M333 120V135M336 120V135M339 120V135" stroke="#6a6a6a" stroke-width="0.7"/>
<path d="M325 117.5V137.5" stroke="#777" stroke-width="0.6"/>
</g>
<g>
<path d="M400 88L423 79L430 95L408 105Z" fill="#b5b5b2"/>
<path d="M400 88L423 79L425 84L402 93Z" fill="#d6d6d2"/>
<path d="M408 105L430 95L431 99L410 108Z" fill="#7a7a76"/>
<ellipse cx="426" cy="86" rx="5" ry="6.5" fill="#151515"/>
<path d="M392 96L402 92L405 104L395 107Z" fill="#a8a8a6"/>
<ellipse cx="393" cy="101.5" rx="2.5" ry="5" fill="#777"/>
<path d="M395 107L398 110M424 100L428 102" stroke="#444" stroke-width="1.2"/>
</g>
<g>
<ellipse cx="500" cy="61" rx="9.5" ry="12.5" transform="rotate(-32 500 61)" fill="#111"/>
<path d="M472 67L493 52L508 70L487 84Z" fill="#141414"/>
<ellipse cx="480" cy="74" rx="9.6" ry="12.3" transform="rotate(-32 480 74)" fill="#c9c9c2" stroke="#8d8d88" stroke-width="0.8"/>
<path d="M474 66L486 82M472 76L488 72" stroke="#8a8a84" stroke-width="0.9"/>
<path d="M468 63L474 60M487 50V46M503 73L508 71" stroke="#999" stroke-width="1.4"/>
</g>
<g>
<path d="M542.5 5.2L577.5 14L578.5 17.5L575.5 18.5L575 16.5L547 9.5L548 17L544.5 17.5Z" fill="#1b1b1b"/>
<rect x="543.5" y="15.5" width="31" height="21" rx="4.5" fill="#141414"/>
<rect x="549" y="18" width="18" height="15" rx="1.5" fill="#2c2e2e"/>
<circle cx="557.5" cy="25.5" r="4.2" fill="#1c1c1c"/>
<path d="M552 20v11M564 21v11" stroke="#666" stroke-width="1" stroke-dasharray="1 1.5"/>
<rect x="574" y="22" width="3" height="7" fill="#555"/>
<path d="M546.5 33L561 34L575 37V46L560 43L547 41Z" fill="#1b1b1b"/>
<ellipse cx="555" cy="39.5" rx="2.5" ry="1.3" fill="#e8e8e8"/><ellipse cx="563" cy="41" rx="2.5" ry="1.3" fill="#e8e8e8"/>
</g>
<g>
<path d="M689 416Q694 414 699 417Q702 421 698 424L693 427Q690 433 690 439L685 439Q685 430 688 424Q686 419 689 416Z" fill="#141414"/>
<circle cx="692" cy="417.5" r="0.9" fill="#c0282a"/><circle cx="695.5" cy="417.5" r="0.9" fill="#c0282a"/>
<path d="M682.5 438H693L694 444H682Z" fill="#1a1a1a"/>
<path d="M681.5 444H694.5V453Q688 456 681.5 453Z" fill="#8b8e98"/>
</g>
<polygon points="751.9,418.5 789,416.8 789,448.9 751,446.3" fill="#111"/>
<polygon points="754,420.5 787,419 787,446.5 753,444" fill="url(#scr)"/>
<ellipse cx="770.25" cy="432.5" rx="5.3" ry="6.6" fill="none" stroke="#5ab0d8" stroke-width="1"/>
<ellipse cx="760.4" cy="431.5" rx="4.0" ry="5.3" fill="none" stroke="#3f74c8" stroke-width="1"/>
<ellipse cx="780.1" cy="431.5" rx="4.0" ry="5.3" fill="none" stroke="#3f74c8" stroke-width="1"/>
<circle cx="770.25" cy="432.5" r="1.4" fill="#50e0b0"/>
<line x1="754" y1="442" x2="786" y2="444.5" stroke="#3060d0" stroke-width="1"/>
<polygon points="209.3,589.5 243.3,587.6 243.3,617.6 207.4,615.7" fill="#111"/>
<polygon points="211.3,591.5 241.3,590 241.3,615.3 209.5,613.5" fill="url(#scr)"/>
<ellipse cx="225.85000000000002" cy="602.575" rx="4.8" ry="6.0" fill="none" stroke="#5ab0d8" stroke-width="1"/>
<ellipse cx="216.9" cy="601.575" rx="3.6" ry="4.8" fill="none" stroke="#3f74c8" stroke-width="1"/>
<ellipse cx="234.9" cy="601.575" rx="3.6" ry="4.8" fill="none" stroke="#3f74c8" stroke-width="1"/>
<circle cx="225.85000000000002" cy="602.575" r="1.4" fill="#50e0b0"/>
<line x1="210.5" y1="611.5" x2="240.3" y2="613.3" stroke="#3060d0" stroke-width="1"/>
<g>
<line x1="78.4" y1="479" x2="78" y2="504" stroke="#c4c4c4" stroke-width="0.8"/>
<path d="M73.8 465Q74 463 78 463Q82.5 463 82.8 466L82.3 471L74 471Z" fill="#b0b0b0"/>
<path d="M74 470.5H82.3L81 478.5Q78 480 76 478.5Z" fill="#141414"/>
</g>
<polygon points="110.5,581.8 141.5,588.6 130.9,619.6 98.9,610.9" fill="#151515"/>
<rect x="110.3" y="583.9" width="5.2" height="4.8" rx="1" fill="#2e2e2e" transform="rotate(12 112.9 586.3)"/><rect x="107.5" y="591.3" width="5.2" height="4.8" rx="1" fill="#2e2e2e" transform="rotate(12 110.1 593.7)"/><rect x="104.6" y="598.6" width="5.2" height="4.8" rx="1" fill="#2e2e2e" transform="rotate(12 107.2 601.0)"/><rect x="101.7" y="605.9" width="5.2" height="4.8" rx="1" fill="#2e2e2e" transform="rotate(12 104.3 608.3)"/><rect x="118.1" y="585.7" width="5.2" height="4.8" rx="1" fill="#2e2e2e" transform="rotate(12 120.7 588.1)"/><rect x="115.3" y="593.1" width="5.2" height="4.8" rx="1" fill="#2e2e2e" transform="rotate(12 117.9 595.5)"/><rect x="112.5" y="600.6" width="5.2" height="4.8" rx="1" fill="#2e2e2e" transform="rotate(12 115.1 603.0)"/><rect x="109.7" y="608.0" width="5.2" height="4.8" rx="1" fill="#2e2e2e" transform="rotate(12 112.3 610.4)"/><rect x="125.9" y="587.4" width="5.2" height="4.8" rx="1" fill="#2e2e2e" transform="rotate(12 128.5 589.8)"/><rect x="123.2" y="595.0" width="5.2" height="4.8" rx="1" fill="#2e2e2e" transform="rotate(12 125.8 597.4)"/><rect x="120.4" y="602.6" width="5.2" height="4.8" rx="1" fill="#2e2e2e" transform="rotate(12 123.0 605.0)"/><rect x="117.7" y="610.2" width="5.2" height="4.8" rx="1" fill="#2e2e2e" transform="rotate(12 120.3 612.6)"/><rect x="133.7" y="589.2" width="5.2" height="4.8" rx="1" fill="#2e2e2e" transform="rotate(12 136.3 591.6)"/><rect x="131.0" y="596.9" width="5.2" height="4.8" rx="1" fill="#2e2e2e" transform="rotate(12 133.6 599.3)"/><rect x="128.3" y="604.6" width="5.2" height="4.8" rx="1" fill="#2e2e2e" transform="rotate(12 130.9 607.0)"/><rect x="125.6" y="612.3" width="5.2" height="4.8" rx="1" fill="#2e2e2e" transform="rotate(12 128.2 614.7)"/>
<polygon points="261,537 264,535 283,529 295,545 297,553 274,564 262,548" fill="#121212"/>
<polygon points="264.4,535.5 283,530 294,545 274,552.5" fill="#2a2a26" stroke="#c9a227" stroke-width="1.1"/>
<polygon points="274,553 294.4,545.5 297,553 274.5,564" fill="#0d0d0d"/>
<polygon points="255,723 258,722 277,717 290,733 291,742 272,753 256,737" fill="#121212"/>
<polygon points="258.5,724 277,718.5 288.5,733.5 267.5,741.5" fill="#2a2a26" stroke="#c9a227" stroke-width="1.1"/>
<polygon points="267.5,742 288.5,734 291,742 272,753" fill="#0d0d0d"/>
<rect x="371.3" y="594.7" width="54.8" height="25.5" rx="2.5" fill="#2a2624"/>
<rect x="373" y="596.3" width="51.4" height="22.3" rx="1.5" fill="#8c8580"/>
<path d="M374 598.5h12v3h-8v11h8v3h-12Z" fill="#c9c0b6"/>
<path d="M423.4 598.5h-12v3h8v11h-8v3h12Z" fill="#c9c0b6"/>
<rect x="377" y="602.5" width="4" height="10" fill="#4e4a47"/><rect x="416.5" y="602.5" width="4" height="10" fill="#4e4a47"/>
<rect x="383" y="603" width="3" height="9" fill="#d8d0c8"/><rect x="411.5" y="603" width="3" height="9" fill="#d8d0c8"/>
<path d="M384 600.6h6.5M407 600.6h6.5M384 613.8h6.5M407 613.8h6.5" stroke="#d0603a" stroke-width="1.6"/>
<circle cx="398.7" cy="607.3" r="9.3" fill="#c6bdb3"/>
<circle cx="398.7" cy="607.3" r="6.8" fill="#b9b0a8" stroke="#55504d" stroke-width="1.8"/>
<path d="M398.7 601v12.6M392.4 607.3h12.6" stroke="#c2502e" stroke-width="1.2"/>
<path d="M491 587.5H514L517 604H489Z" fill="#141414"/>
<rect x="494.5" y="588.5" width="16" height="15" fill="#222" stroke="#d4b020" stroke-width="0.9"/>
<path d="M497 592h11M497 595h11M497 598h11M497 601h11" stroke="#777" stroke-width="0.6"/>
<path d="M485 604H521L523 617L520 620.5H486L483.5 617Z" fill="#121212"/>
<path d="M486 608h15M505 608h15M486 613h15M505 613h15" stroke="#333" stroke-width="1.2"/>
<path d="M589 598.7V612Q589 621 606 621Q623 621 623 612V598.7Z" fill="#9c9c9c"/>
<path d="M589 605V612Q589 621 606 621Q623 621 623 612V605Q612 612 589 605Z" fill="#5f5f5f"/>
<ellipse cx="606" cy="598.7" rx="17" ry="13.2" fill="#d2d2d2" stroke="#8a8a8a" stroke-width="0.6"/>
<ellipse cx="608" cy="600" rx="6" ry="5" fill="#7a7a7a" stroke="#444" stroke-width="1"/>
<circle cx="603" cy="585.5" r="1" fill="#222"/><circle cx="620" cy="596" r="1" fill="#222"/><circle cx="607" cy="612" r="1" fill="#222"/>
<polygon points="546,612 604,588.5 606,595.5 548,619.5" fill="#c9c9c9" stroke="#9a9a9a" stroke-width="0.6"/>
<circle cx="550.0" cy="614.5" r="0.95" fill="#333"/><circle cx="557.0" cy="611.6" r="0.95" fill="#333"/><circle cx="564.0" cy="608.8" r="0.95" fill="#333"/><circle cx="571.0" cy="606.0" r="0.95" fill="#333"/><circle cx="578.0" cy="603.1" r="0.95" fill="#333"/><circle cx="585.0" cy="600.2" r="0.95" fill="#333"/><circle cx="592.0" cy="597.4" r="0.95" fill="#333"/><circle cx="599.0" cy="594.5" r="0.95" fill="#333"/>
<circle cx="604" cy="592" r="2.2" fill="#ddd" stroke="#777" stroke-width="0.6"/>
<polygon points="680,597 700,584 729,597.5 710,619" fill="#4a4f58"/>
<polygon points="680,597 700,584 729,597.5 710,610" fill="#575c66"/>
<polygon points="710,610 729,597.5 729,603 710,619" fill="#3e434b"/>
<path d="M716 611L728 601" stroke="#222" stroke-width="1" stroke-dasharray="1 1"/>
<g>
<path d="M349 730h9M351 732h5" stroke="#444" stroke-width="1.2"/>
<rect x="351.5" y="734" width="4" height="7" fill="#555"/>
<path d="M353 739v5" stroke="#a03030" stroke-width="1.2"/>
<rect x="355" y="742" width="7" height="6" fill="#777"/>
<rect x="362" y="744.5" width="41" height="2.5" fill="#d0d0d0" stroke="#999" stroke-width="0.5"/>
<rect x="389.5" y="742.5" width="2.5" height="6" fill="#555"/>
</g></svg>
<svg id="dotsvg" width="800" height="780" viewBox="0 0 800 780"><defs><filter id="dsh" x="-50%" y="-50%" width="200%" height="200%"><feGaussianBlur stdDeviation="2.2"/></filter></defs><circle cx="163.25" cy="274.75" r="12.5" fill="#000" opacity="0.10" filter="url(#dsh)"/><circle cx="236.75" cy="245.8" r="12.5" fill="#000" opacity="0.10" filter="url(#dsh)"/><circle cx="320" cy="219.6" r="12.5" fill="#000" opacity="0.10" filter="url(#dsh)"/><circle cx="409.5" cy="195" r="12.5" fill="#000" opacity="0.10" filter="url(#dsh)"/><circle cx="487.5" cy="169.5" r="12.5" fill="#000" opacity="0.10" filter="url(#dsh)"/><circle cx="561" cy="127.5" r="12.5" fill="#000" opacity="0.10" filter="url(#dsh)"/><circle cx="565" cy="207" r="12.5" fill="#000" opacity="0.10" filter="url(#dsh)"/><circle cx="606.3" cy="207" r="12.5" fill="#000" opacity="0.10" filter="url(#dsh)"/><circle cx="501.9" cy="301.9" r="12.5" fill="#000" opacity="0.10" filter="url(#dsh)"/><circle cx="477.5" cy="343" r="12.5" fill="#000" opacity="0.10" filter="url(#dsh)"/><circle cx="281.8" cy="316" r="12.5" fill="#000" opacity="0.10" filter="url(#dsh)"/><circle cx="165.6" cy="347" r="12.5" fill="#000" opacity="0.10" filter="url(#dsh)"/><circle cx="221.9" cy="391" r="12.5" fill="#000" opacity="0.10" filter="url(#dsh)"/><circle cx="163.25" cy="274.75" r="11.5" fill="#fff"/><circle cx="163.25" cy="274.75" r="8" fill="#a70f13"/><circle cx="236.75" cy="245.8" r="11.5" fill="#fff"/><circle cx="236.75" cy="245.8" r="8" fill="#a70f13"/><circle cx="320" cy="219.6" r="11.5" fill="#fff"/><circle cx="320" cy="219.6" r="8" fill="#a70f13"/><circle cx="409.5" cy="195" r="11.5" fill="#fff"/><circle cx="409.5" cy="195" r="8" fill="#a70f13"/><circle cx="487.5" cy="169.5" r="11.5" fill="#fff"/><circle cx="487.5" cy="169.5" r="8" fill="#a70f13"/><circle cx="561" cy="127.5" r="11.5" fill="#fff"/><circle cx="561" cy="127.5" r="8" fill="#a70f13"/><circle cx="565" cy="207" r="11.5" fill="#fff"/><circle cx="565" cy="207" r="8" fill="#a70f13"/><circle cx="606.3" cy="207" r="11.5" fill="#fff"/><circle cx="606.3" cy="207" r="8" fill="#a70f13"/><circle cx="501.9" cy="301.9" r="11.5" fill="#fff"/><circle cx="501.9" cy="301.9" r="8" fill="#a70f13"/><circle cx="477.5" cy="343" r="11.5" fill="#fff"/><circle cx="477.5" cy="343" r="8" fill="#a70f13"/><circle cx="281.8" cy="316" r="11.5" fill="#fff"/><circle cx="281.8" cy="316" r="8" fill="#a70f13"/><circle cx="165.6" cy="347" r="11.5" fill="#fff"/><circle cx="165.6" cy="347" r="8" fill="#a70f13"/><circle cx="221.9" cy="391" r="11.5" fill="#fff"/><circle cx="221.9" cy="391" r="8" fill="#a70f13"/></svg>
<div class="lb" style="left:163px;top:201px">风速仪</div>
<div class="lb" style="left:237px;top:171px">卷筒</div>
<div class="lb" style="left:320.5px;top:145px">压力传感器</div>
<div class="lb" style="left:410.5px;top:120px">拉绳传感器</div>
<div class="lb" style="left:488px;top:94.5px">电缆卷筒</div>
<div class="lb" style="left:561px;top:53px">摄像头</div>
<div class="lb" style="left:689px;top:461px">手柄</div>
<div class="lb" style="left:770.7px;top:461px">显示器</div>
<div class="lb" style="left:78.5px;top:512px">A2B开关</div>
<div class="lb" style="left:122.5px;top:623px">按键面板</div>
<div class="lb" style="left:224.5px;top:623px">显示器</div>
<div class="lb" style="left:279px;top:570px">倾角传感器</div>
<div class="lb" style="left:399.4px;top:629px">支腿调平面板</div>
<div class="lb" style="left:503.75px;top:629px">控制器</div>
<div class="lb" style="left:602px;top:629px">角度传感器</div>
<div class="lb" style="left:704px;top:629px">控制器</div>
<div class="lb" style="left:273px;top:758px">倾角传感器</div>
<div class="lb" style="left:377.5px;top:758px">位移传感器</div>
</body></html>
